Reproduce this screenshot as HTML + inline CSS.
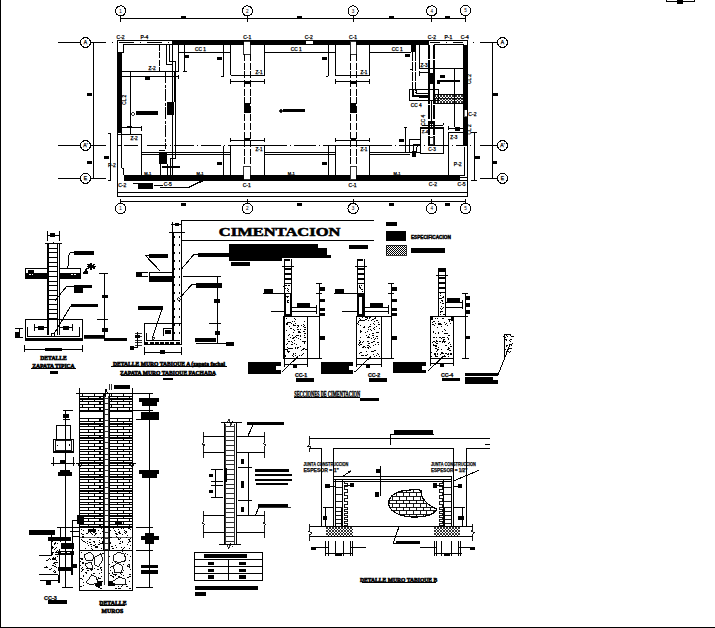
<!DOCTYPE html>
<html><head><meta charset="utf-8"><style>
html,body{margin:0;padding:0;background:#fff;}
svg{display:block;font-family:"Liberation Sans",sans-serif;}
</style></head><body>
<svg width="715" height="628" viewBox="0 0 715 628" stroke="#000" fill="none" shape-rendering="crispEdges">
<defs>
<pattern id="hx" width="3" height="3" patternUnits="userSpaceOnUse"><path d="M0,0L3,3M3,0L0,3" stroke="#000" stroke-width="0.8"/></pattern>
<pattern id="dg" width="2" height="2" patternUnits="userSpaceOnUse"><rect x="0" y="0" width="1" height="1" fill="#000" stroke="none"/><rect x="1" y="1" width="1" height="1" fill="#000" stroke="none"/></pattern>
<pattern id="sp" width="5" height="5" patternUnits="userSpaceOnUse"><rect x="1" y="1" width="1" height="1" fill="#000" stroke="none"/><rect x="3.5" y="3" width="1" height="1" fill="#000" stroke="none"/><rect x="0.5" y="4" width="0.8" height="0.8" fill="#000" stroke="none"/></pattern>
</defs>
<rect x="0" y="0" width="1.20" height="628.00" fill="#000" stroke="none"/>
<rect x="0" y="626.6" width="715.00" height="1.40" fill="#000" stroke="none"/>
<line x1="666.7" y1="1.7" x2="694" y2="1.7" stroke-width="1"/>
<line x1="666.7" y1="0" x2="666.7" y2="1.7" stroke-width="1"/>
<line x1="694" y1="0" x2="694" y2="1.7" stroke-width="1"/>
<rect x="677.2" y="0" width="5.60" height="3.50" fill="#000" stroke="none"/>
<line x1="120.6" y1="15.5" x2="120.6" y2="21.7" stroke-width="1"/>
<line x1="120.6" y1="198.7" x2="120.6" y2="204" stroke-width="1"/>
<circle cx="120.6" cy="10.9" r="5.1" fill="#fff" stroke-width="1"/>
<circle cx="120.6" cy="208.5" r="5.2" fill="#fff" stroke-width="1"/>
<text x="120.6" y="12.6" font-size="4.6" text-anchor="middle" font-weight="normal" font-family="Liberation Sans" stroke="#000" stroke-width="0" fill="#000">1</text>
<text x="120.6" y="210.1" font-size="4.6" text-anchor="middle" font-weight="normal" font-family="Liberation Sans" stroke="#000" stroke-width="0" fill="#000">1</text>
<line x1="247.4" y1="15.5" x2="247.4" y2="21.7" stroke-width="1"/>
<line x1="247.4" y1="198.7" x2="247.4" y2="204" stroke-width="1"/>
<circle cx="247.4" cy="10.9" r="5.1" fill="#fff" stroke-width="1"/>
<circle cx="247.4" cy="208.5" r="5.2" fill="#fff" stroke-width="1"/>
<text x="247.4" y="12.6" font-size="4.6" text-anchor="middle" font-weight="normal" font-family="Liberation Sans" stroke="#000" stroke-width="0" fill="#000">2</text>
<text x="247.4" y="210.1" font-size="4.6" text-anchor="middle" font-weight="normal" font-family="Liberation Sans" stroke="#000" stroke-width="0" fill="#000">2</text>
<line x1="353.1" y1="15.5" x2="353.1" y2="21.7" stroke-width="1"/>
<line x1="353.1" y1="198.7" x2="353.1" y2="204" stroke-width="1"/>
<circle cx="353.1" cy="10.9" r="5.1" fill="#fff" stroke-width="1"/>
<circle cx="353.1" cy="208.5" r="5.2" fill="#fff" stroke-width="1"/>
<text x="353.1" y="12.6" font-size="4.6" text-anchor="middle" font-weight="normal" font-family="Liberation Sans" stroke="#000" stroke-width="0" fill="#000">3</text>
<text x="353.1" y="210.1" font-size="4.6" text-anchor="middle" font-weight="normal" font-family="Liberation Sans" stroke="#000" stroke-width="0" fill="#000">3</text>
<line x1="431.7" y1="15.5" x2="431.7" y2="21.7" stroke-width="1"/>
<line x1="431.7" y1="198.7" x2="431.7" y2="204" stroke-width="1"/>
<circle cx="431.7" cy="10.9" r="5.1" fill="#fff" stroke-width="1"/>
<circle cx="431.7" cy="208.5" r="5.2" fill="#fff" stroke-width="1"/>
<text x="431.7" y="12.6" font-size="4.6" text-anchor="middle" font-weight="normal" font-family="Liberation Sans" stroke="#000" stroke-width="0" fill="#000">4</text>
<text x="431.7" y="210.1" font-size="4.6" text-anchor="middle" font-weight="normal" font-family="Liberation Sans" stroke="#000" stroke-width="0" fill="#000">4</text>
<line x1="465.5" y1="15.5" x2="465.5" y2="21.7" stroke-width="1"/>
<line x1="465.5" y1="198.7" x2="465.5" y2="204" stroke-width="1"/>
<circle cx="465.5" cy="10.6" r="5.1" fill="#fff" stroke-width="1"/>
<circle cx="465.5" cy="208.5" r="5.2" fill="#fff" stroke-width="1"/>
<text x="465.5" y="12.3" font-size="4.6" text-anchor="middle" font-weight="normal" font-family="Liberation Sans" stroke="#000" stroke-width="0" fill="#000">5</text>
<text x="465.5" y="210.1" font-size="4.6" text-anchor="middle" font-weight="normal" font-family="Liberation Sans" stroke="#000" stroke-width="0" fill="#000">5</text>
<line x1="120.6" y1="18.4" x2="465.5" y2="18.4" stroke-width="1"/>
<line x1="120.6" y1="201.3" x2="465.5" y2="201.3" stroke-width="1"/>
<rect x="180.9" y="15.900000000000002" width="5.00" height="2.40" fill="#000" stroke="none"/>
<rect x="180.9" y="203.10000000000002" width="5.00" height="2.40" fill="#000" stroke="none"/>
<rect x="296.8" y="15.900000000000002" width="5.00" height="2.40" fill="#000" stroke="none"/>
<rect x="296.8" y="203.10000000000002" width="5.00" height="2.40" fill="#000" stroke="none"/>
<rect x="388.7" y="15.900000000000002" width="5.00" height="2.40" fill="#000" stroke="none"/>
<rect x="388.7" y="203.10000000000002" width="5.00" height="2.40" fill="#000" stroke="none"/>
<rect x="444.9" y="15.900000000000002" width="5.00" height="2.40" fill="#000" stroke="none"/>
<rect x="444.9" y="203.10000000000002" width="5.00" height="2.40" fill="#000" stroke="none"/>
<line x1="58" y1="42.5" x2="80.5" y2="42.5" stroke-width="1"/>
<line x1="90.5" y1="42.5" x2="106" y2="42.5" stroke-width="1"/>
<circle cx="85.5" cy="42.5" r="5" fill="#fff" stroke-width="1"/>
<text x="85.5" y="44.3" font-size="5" text-anchor="middle" font-weight="normal" font-family="Liberation Sans" stroke="#000" stroke-width="0.25" fill="#000">A</text>
<line x1="479.8" y1="42.5" x2="497.4" y2="42.5" stroke-width="1"/>
<circle cx="502.5" cy="42.5" r="5" fill="#fff" stroke-width="1"/>
<text x="502.5" y="44.3" font-size="5" text-anchor="middle" font-weight="normal" font-family="Liberation Sans" stroke="#000" stroke-width="0.25" fill="#000">A</text>
<line x1="58" y1="145.5" x2="80.5" y2="145.5" stroke-width="1"/>
<line x1="90.5" y1="145.5" x2="106" y2="145.5" stroke-width="1"/>
<circle cx="85.5" cy="145.5" r="5" fill="#fff" stroke-width="1"/>
<text x="85.5" y="147.3" font-size="5" text-anchor="middle" font-weight="normal" font-family="Liberation Sans" stroke="#000" stroke-width="0.25" fill="#000">A'</text>
<line x1="479.8" y1="145.5" x2="497.4" y2="145.5" stroke-width="1"/>
<circle cx="502.5" cy="145.5" r="5" fill="#fff" stroke-width="1"/>
<text x="502.5" y="147.3" font-size="5" text-anchor="middle" font-weight="normal" font-family="Liberation Sans" stroke="#000" stroke-width="0.25" fill="#000">A'</text>
<line x1="58" y1="178.4" x2="80.5" y2="178.4" stroke-width="1"/>
<line x1="90.5" y1="178.4" x2="106" y2="178.4" stroke-width="1"/>
<circle cx="85.5" cy="178.4" r="5" fill="#fff" stroke-width="1"/>
<text x="85.5" y="180.20000000000002" font-size="5" text-anchor="middle" font-weight="normal" font-family="Liberation Sans" stroke="#000" stroke-width="0.25" fill="#000">E</text>
<line x1="479.8" y1="178.4" x2="497.4" y2="178.4" stroke-width="1"/>
<circle cx="502.5" cy="178.4" r="5" fill="#fff" stroke-width="1"/>
<text x="502.5" y="180.20000000000002" font-size="5" text-anchor="middle" font-weight="normal" font-family="Liberation Sans" stroke="#000" stroke-width="0.25" fill="#000">E</text>
<line x1="93.5" y1="42.5" x2="93.5" y2="178.4" stroke-width="1"/>
<line x1="492.5" y1="42.5" x2="492.5" y2="178.4" stroke-width="1"/>
<rect x="87" y="93.1" width="5.00" height="2.40" fill="#000" stroke="none"/>
<rect x="87" y="161.2" width="5.00" height="2.40" fill="#000" stroke="none"/>
<rect x="493" y="93.2" width="4.50" height="2.40" fill="#000" stroke="none"/>
<rect x="493" y="161" width="3.60" height="2.60" fill="#000" stroke="none"/>
<line x1="110.5" y1="133" x2="110.5" y2="180.2" stroke-width="1"/>
<line x1="108" y1="133" x2="111" y2="133" stroke-width="1"/>
<line x1="108" y1="180.2" x2="111" y2="180.2" stroke-width="1"/>
<rect x="103.5" y="156.2" width="5.00" height="2.40" fill="#000" stroke="none"/>
<text x="111.8" y="166.5" font-size="5" text-anchor="middle" font-weight="normal" font-family="Liberation Sans" stroke="#000" stroke-width="0.25" fill="#000">P-2</text>
<line x1="474.2" y1="132" x2="474.2" y2="180.2" stroke-width="1"/>
<line x1="471" y1="132" x2="477.4" y2="132" stroke-width="1"/>
<line x1="471" y1="180.2" x2="477.4" y2="180.2" stroke-width="1"/>
<rect x="475" y="156.3" width="4.80" height="2.40" fill="#000" stroke="none"/>
<rect x="112.3" y="42" width="1.00" height="1.00" fill="#000" stroke="none"/>
<rect x="473" y="42" width="1.00" height="1.00" fill="#000" stroke="none"/>
<line x1="117.2" y1="40.7" x2="117.2" y2="196.3" stroke-width="1"/>
<line x1="117.2" y1="40.7" x2="172.3" y2="40.7" stroke-width="1"/>
<line x1="123.2" y1="44.5" x2="172.3" y2="44.5" stroke-width="1"/>
<line x1="119" y1="42.5" x2="172" y2="42.5" stroke-width="1" stroke-dasharray="15 6 1 6"/>
<line x1="123.2" y1="44.5" x2="123.2" y2="52.5" stroke-width="1"/>
<line x1="117.2" y1="52.5" x2="123.2" y2="52.5" stroke-width="1"/>
<rect x="172.3" y="40.1" width="256.20" height="4.50" fill="#000" stroke="none"/>
<rect x="117.8" y="52.5" width="3.90" height="80.50" fill="#000" stroke="none"/>
<rect x="123.6" y="175.2" width="336.40" height="5.40" fill="#000" stroke="none"/>
<rect x="463.7" y="45.4" width="4.20" height="100.80" fill="#000" stroke="none"/>
<line x1="428.5" y1="40.6" x2="467.9" y2="40.6" stroke-width="1"/>
<line x1="434.3" y1="44.2" x2="463.7" y2="44.2" stroke-width="1"/>
<line x1="467.9" y1="40.6" x2="467.9" y2="196.4" stroke-width="1"/>
<line x1="429.6" y1="42.5" x2="439.5" y2="42.5" stroke-width="1"/>
<rect x="446" y="42" width="1.00" height="1.00" fill="#000" stroke="none"/>
<line x1="453.3" y1="42.5" x2="463.2" y2="42.5" stroke-width="1"/>
<line x1="463.3" y1="44.2" x2="463.3" y2="146" stroke-width="1"/>
<line x1="117.2" y1="192.4" x2="467.9" y2="192.4" stroke-width="1"/>
<line x1="117.2" y1="196.3" x2="467.9" y2="196.3" stroke-width="1"/>
<line x1="121.6" y1="133" x2="121.6" y2="168" stroke-width="1"/>
<line x1="121.6" y1="168" x2="123.6" y2="168" stroke-width="1"/>
<line x1="123.6" y1="168" x2="123.6" y2="175.2" stroke-width="1"/>
<line x1="117.9" y1="133" x2="117.9" y2="175.2" stroke-width="1"/>
<line x1="464" y1="146.5" x2="464" y2="175.6" stroke-width="1"/>
<line x1="459.7" y1="175.6" x2="464" y2="175.6" stroke-width="1"/>
<line x1="459.7" y1="177.6" x2="467.5" y2="177.6" stroke-width="1"/>
<line x1="459.7" y1="180.3" x2="467.9" y2="180.3" stroke-width="1"/>
<rect x="464.3" y="109.8" width="3.00" height="7.00" fill="#fff" stroke="none"/>
<rect x="464.3" y="109.8" width="3.00" height="7.00" fill="none" stroke-width="0.6"/>
<line x1="117.2" y1="145.5" x2="121" y2="145.5" stroke-width="1"/>
<line x1="124" y1="145.5" x2="140" y2="145.5" stroke-width="1" stroke-dasharray="14 3 1 3"/>
<line x1="147" y1="145.5" x2="230.5" y2="145.5" stroke-width="1" stroke-dasharray="20 3 1 3"/>
<line x1="264.6" y1="145.5" x2="335.4" y2="145.5" stroke-width="1" stroke-dasharray="22 3 1 3"/>
<line x1="369.5" y1="145.5" x2="448" y2="145.5" stroke-width="1" stroke-dasharray="22 3 1 3"/>
<line x1="452" y1="145.5" x2="463" y2="145.5" stroke-width="1" stroke-dasharray="1 3 10 3"/>
<rect x="469.5" y="145" width="1.00" height="1.00" fill="#000" stroke="none"/>
<rect x="243.7" y="41" width="6.60" height="13.20" fill="#fff" stroke="none"/>
<rect x="243.7" y="41" width="6.60" height="13.20" fill="none" stroke-width="0.8"/>
<rect x="243.7" y="166.2" width="6.60" height="13.60" fill="#fff" stroke="none"/>
<rect x="243.7" y="166.2" width="6.60" height="13.60" fill="none" stroke-width="0.8"/>
<line x1="244.2" y1="54.2" x2="244.2" y2="166.2" stroke-width="1" stroke-dasharray="7 1.6"/>
<line x1="250.0" y1="54.2" x2="250.0" y2="166.2" stroke-width="1" stroke-dasharray="7 1.6"/>
<rect x="243.7" y="103.3" width="6.60" height="10.00" fill="#000" stroke="none"/>
<rect x="244.2" y="81.5" width="5.60" height="2.50" fill="#000" stroke="none"/>
<rect x="244.2" y="137.6" width="5.60" height="2.20" fill="#000" stroke="none"/>
<line x1="230.5" y1="44.5" x2="230.5" y2="75.2" stroke-width="1"/>
<line x1="264.6" y1="44.5" x2="264.6" y2="75.2" stroke-width="1"/>
<line x1="230.5" y1="75.2" x2="264.6" y2="75.2" stroke-width="1"/>
<line x1="230.5" y1="145.5" x2="230.5" y2="175.2" stroke-width="1"/>
<line x1="264.6" y1="145.5" x2="264.6" y2="175.2" stroke-width="1"/>
<line x1="230.5" y1="145.5" x2="264.6" y2="145.5" stroke-width="1"/>
<line x1="230.5" y1="81.2" x2="264.6" y2="81.2" stroke-width="1"/>
<line x1="230.5" y1="79" x2="230.5" y2="83.6" stroke-width="1"/>
<line x1="264.6" y1="79" x2="264.6" y2="83.6" stroke-width="1"/>
<line x1="230.5" y1="140.1" x2="264.6" y2="140.1" stroke-width="1"/>
<line x1="230.5" y1="137.8" x2="230.5" y2="142.4" stroke-width="1"/>
<line x1="264.6" y1="137.8" x2="264.6" y2="142.4" stroke-width="1"/>
<text x="247.2" y="38.7" font-size="5" text-anchor="middle" font-weight="normal" font-family="Liberation Sans" stroke="#000" stroke-width="0.25" fill="#000">C-1</text>
<text x="246.7" y="186.7" font-size="5" text-anchor="middle" font-weight="normal" font-family="Liberation Sans" stroke="#000" stroke-width="0.25" fill="#000">C-1</text>
<text x="259.0" y="74.2" font-size="4.6" text-anchor="middle" font-weight="normal" font-family="Liberation Sans" stroke="#000" stroke-width="0.25" fill="#000">Z-1</text>
<text x="259.0" y="151" font-size="4.6" text-anchor="middle" font-weight="normal" font-family="Liberation Sans" stroke="#000" stroke-width="0.25" fill="#000">Z-1</text>
<rect x="350.0" y="41" width="6.30" height="13.20" fill="#fff" stroke="none"/>
<rect x="350.0" y="41" width="6.30" height="13.20" fill="none" stroke-width="0.8"/>
<rect x="350.0" y="166.2" width="6.30" height="13.60" fill="#fff" stroke="none"/>
<rect x="350.0" y="166.2" width="6.30" height="13.60" fill="none" stroke-width="0.8"/>
<line x1="350.5" y1="54.2" x2="350.5" y2="166.2" stroke-width="1" stroke-dasharray="7 1.6"/>
<line x1="356.0" y1="54.2" x2="356.0" y2="166.2" stroke-width="1" stroke-dasharray="7 1.6"/>
<rect x="350.0" y="103.3" width="6.30" height="10.00" fill="#000" stroke="none"/>
<rect x="350.5" y="81.5" width="5.30" height="2.50" fill="#000" stroke="none"/>
<rect x="350.5" y="137.6" width="5.30" height="2.20" fill="#000" stroke="none"/>
<line x1="335.4" y1="44.5" x2="335.4" y2="75.2" stroke-width="1"/>
<line x1="369.5" y1="44.5" x2="369.5" y2="75.2" stroke-width="1"/>
<line x1="335.4" y1="75.2" x2="369.5" y2="75.2" stroke-width="1"/>
<line x1="335.4" y1="145.5" x2="335.4" y2="175.2" stroke-width="1"/>
<line x1="369.5" y1="145.5" x2="369.5" y2="175.2" stroke-width="1"/>
<line x1="335.4" y1="145.5" x2="369.5" y2="145.5" stroke-width="1"/>
<line x1="335.4" y1="81.2" x2="369.5" y2="81.2" stroke-width="1"/>
<line x1="335.4" y1="79" x2="335.4" y2="83.6" stroke-width="1"/>
<line x1="369.5" y1="79" x2="369.5" y2="83.6" stroke-width="1"/>
<line x1="335.4" y1="140.1" x2="369.5" y2="140.1" stroke-width="1"/>
<line x1="335.4" y1="137.8" x2="335.4" y2="142.4" stroke-width="1"/>
<line x1="369.5" y1="137.8" x2="369.5" y2="142.4" stroke-width="1"/>
<text x="353.1" y="38.7" font-size="5" text-anchor="middle" font-weight="normal" font-family="Liberation Sans" stroke="#000" stroke-width="0.25" fill="#000">C-1</text>
<text x="352.6" y="186.7" font-size="5" text-anchor="middle" font-weight="normal" font-family="Liberation Sans" stroke="#000" stroke-width="0.25" fill="#000">C-1</text>
<text x="363.9" y="74.2" font-size="4.6" text-anchor="middle" font-weight="normal" font-family="Liberation Sans" stroke="#000" stroke-width="0.25" fill="#000">Z-1</text>
<text x="363.9" y="151" font-size="4.6" text-anchor="middle" font-weight="normal" font-family="Liberation Sans" stroke="#000" stroke-width="0.25" fill="#000">Z-1</text>
<line x1="178.6" y1="44.5" x2="178.6" y2="71.3" stroke-width="1"/>
<line x1="178.6" y1="52.4" x2="230.5" y2="52.4" stroke-width="1"/>
<line x1="264.6" y1="52.4" x2="335.4" y2="52.4" stroke-width="1"/>
<line x1="369.5" y1="52.4" x2="411" y2="52.4" stroke-width="1"/>
<text x="200.4" y="51.3" font-size="4.8" text-anchor="middle" font-weight="normal" font-family="Liberation Sans" stroke="#000" stroke-width="0.25" fill="#000">CC 1</text>
<text x="296.3" y="51.3" font-size="4.8" text-anchor="middle" font-weight="normal" font-family="Liberation Sans" stroke="#000" stroke-width="0.25" fill="#000">CC 1</text>
<text x="397.2" y="51.3" font-size="4.8" text-anchor="middle" font-weight="normal" font-family="Liberation Sans" stroke="#000" stroke-width="0.25" fill="#000">CC 1</text>
<line x1="141.5" y1="152.6" x2="230.5" y2="152.6" stroke-width="1"/>
<line x1="141.5" y1="154.3" x2="230.5" y2="154.3" stroke-width="1"/>
<line x1="264.6" y1="152.6" x2="335.4" y2="152.6" stroke-width="1"/>
<line x1="264.6" y1="154.3" x2="335.4" y2="154.3" stroke-width="1"/>
<line x1="369.5" y1="152.6" x2="409.8" y2="152.6" stroke-width="1"/>
<line x1="369.5" y1="154.3" x2="409.8" y2="154.3" stroke-width="1"/>
<line x1="184.6" y1="44.5" x2="184.6" y2="71.3" stroke-width="1"/>
<line x1="183" y1="71.3" x2="186.8" y2="71.3" stroke-width="1"/>
<line x1="223.5" y1="44.5" x2="223.5" y2="76.2" stroke-width="1"/>
<line x1="221.0" y1="76.2" x2="223.5" y2="76.2" stroke-width="1"/>
<line x1="223.5" y1="145.5" x2="223.5" y2="175.2" stroke-width="1"/>
<line x1="328.4" y1="44.5" x2="328.4" y2="76.2" stroke-width="1"/>
<line x1="325.9" y1="76.2" x2="328.4" y2="76.2" stroke-width="1"/>
<line x1="328.4" y1="145.5" x2="328.4" y2="175.2" stroke-width="1"/>
<rect x="184.60000000000002" y="55.1" width="4.40" height="2.60" fill="#000" stroke="none"/>
<rect x="217.0" y="57.199999999999996" width="5.00" height="2.40" fill="#000" stroke="none"/>
<rect x="321.9" y="57.199999999999996" width="5.00" height="2.40" fill="#000" stroke="none"/>
<rect x="405.09999999999997" y="54.25" width="4.60" height="2.50" fill="#000" stroke="none"/>
<rect x="217.0" y="162.20000000000002" width="5.00" height="2.40" fill="#000" stroke="none"/>
<rect x="321.9" y="162.20000000000002" width="5.00" height="2.40" fill="#000" stroke="none"/>
<rect x="399.2" y="139.10000000000002" width="5.00" height="2.40" fill="#000" stroke="none"/>
<rect x="306.3" y="41.2" width="6.40" height="2.40" fill="#fff" stroke="none"/>
<text x="308.7" y="39" font-size="5" text-anchor="middle" font-weight="normal" font-family="Liberation Sans" stroke="#000" stroke-width="0.25" fill="#000">C-2</text>
<circle cx="133.2" cy="114" r="1.4" fill="#fff" stroke-width="0.8"/>
<rect x="136.2" y="111.3" width="21.30" height="3.50" fill="#000" stroke="none"/>
<circle cx="281" cy="111" r="1.4" fill="#000" stroke-width="0.8"/>
<rect x="283.3" y="109.3" width="22.00" height="2.70" fill="#000" stroke="none"/>
<text x="147.7" y="174.6" font-size="4" text-anchor="middle" font-weight="normal" font-family="Liberation Sans" stroke="#000" stroke-width="0.25" fill="#000">M-1</text>
<text x="200" y="174.6" font-size="4" text-anchor="middle" font-weight="normal" font-family="Liberation Sans" stroke="#000" stroke-width="0.25" fill="#000">M-1</text>
<text x="291.3" y="174.6" font-size="4" text-anchor="middle" font-weight="normal" font-family="Liberation Sans" stroke="#000" stroke-width="0.25" fill="#000">M-1</text>
<text x="397" y="174.6" font-size="4" text-anchor="middle" font-weight="normal" font-family="Liberation Sans" stroke="#000" stroke-width="0.25" fill="#000">M-1</text>
<text x="120.6" y="38.7" font-size="5" text-anchor="middle" font-weight="normal" font-family="Liberation Sans" stroke="#000" stroke-width="0.25" fill="#000">C-2</text>
<text x="144.3" y="38.7" font-size="5" text-anchor="middle" font-weight="normal" font-family="Liberation Sans" stroke="#000" stroke-width="0.25" fill="#000">P-4</text>
<text x="431.9" y="38.7" font-size="5" text-anchor="middle" font-weight="normal" font-family="Liberation Sans" stroke="#000" stroke-width="0.25" fill="#000">C-2</text>
<text x="448.3" y="38.7" font-size="5" text-anchor="middle" font-weight="normal" font-family="Liberation Sans" stroke="#000" stroke-width="0.25" fill="#000">P-1</text>
<text x="464.7" y="38.7" font-size="5" text-anchor="middle" font-weight="normal" font-family="Liberation Sans" stroke="#000" stroke-width="0.25" fill="#000">C-4</text>
<text x="122.2" y="186.6" font-size="5" text-anchor="middle" font-weight="normal" font-family="Liberation Sans" stroke="#000" stroke-width="0.25" fill="#000">C-2</text>
<text x="167.8" y="185.7" font-size="5" text-anchor="middle" font-weight="normal" font-family="Liberation Sans" stroke="#000" stroke-width="0.25" fill="#000">C-5</text>
<text x="432.9" y="186" font-size="5" text-anchor="middle" font-weight="normal" font-family="Liberation Sans" stroke="#000" stroke-width="0.25" fill="#000">C-2</text>
<text x="461.6" y="186" font-size="5" text-anchor="middle" font-weight="normal" font-family="Liberation Sans" stroke="#000" stroke-width="0.25" fill="#000">C-5</text>
<text x="472.4" y="115.8" font-size="5" text-anchor="middle" font-weight="normal" font-family="Liberation Sans" stroke="#000" stroke-width="0.25" fill="#000">C-2</text>
<text x="125.6" y="99.7" font-size="4.8" text-anchor="middle" font-weight="normal" font-family="Liberation Sans" transform="rotate(-90 125.6 99.7)" stroke="#000" stroke-width="0.25" fill="#000">CL 2</text>
<text x="471.4" y="79" font-size="4.8" text-anchor="middle" font-weight="normal" font-family="Liberation Sans" transform="rotate(-90 471.4 79)" stroke="#000" stroke-width="0.25" fill="#000">CL 2</text>
<text x="471.4" y="129.4" font-size="4.8" text-anchor="middle" font-weight="normal" font-family="Liberation Sans" transform="rotate(-90 471.4 129.4)" stroke="#000" stroke-width="0.25" fill="#000">CL 2</text>
<line x1="121.6" y1="71.3" x2="178.6" y2="71.3" stroke-width="1"/>
<line x1="121.6" y1="76.5" x2="178.6" y2="76.5" stroke-width="1"/>
<line x1="178.6" y1="75" x2="178.6" y2="78.9" stroke-width="1"/>
<line x1="130.3" y1="71.3" x2="130.3" y2="134" stroke-width="1"/>
<line x1="159.6" y1="44.5" x2="159.6" y2="71.3" stroke-width="1" stroke-dasharray="6 1.5"/>
<line x1="165.4" y1="71.3" x2="165.4" y2="149" stroke-width="1" stroke-dasharray="12 1.5 3 1.5"/>
<line x1="159.2" y1="150" x2="165.4" y2="150" stroke-width="1"/>
<rect x="145" y="76.8" width="5.00" height="2.80" fill="#000" stroke="none"/>
<text x="152.2" y="69.8" font-size="4.8" text-anchor="middle" font-weight="normal" font-family="Liberation Sans" stroke="#000" stroke-width="0.25" fill="#000">Z-2</text>
<path d="M166.8,44.5V64.5H172.5" stroke-width="1" fill="none"/>
<path d="M169.5,44.5V61.8H175.6V157.8" stroke-width="1" fill="none"/>
<line x1="172.5" y1="44.5" x2="172.5" y2="175.1" stroke-width="1"/>
<line x1="174.4" y1="71.3" x2="174.4" y2="102" stroke-width="1"/>
<rect x="167" y="102.2" width="7.00" height="12.60" fill="#000" stroke="none"/>
<line x1="121.6" y1="127.4" x2="141.5" y2="127.4" stroke-width="1"/>
<line x1="141.5" y1="125.6" x2="141.5" y2="131" stroke-width="1"/>
<rect x="127" y="125.8" width="4.70" height="1.80" fill="#000" stroke="none"/>
<line x1="117.6" y1="134" x2="141.5" y2="134" stroke-width="1"/>
<line x1="141.5" y1="134" x2="141.5" y2="175.1" stroke-width="1"/>
<text x="134.1" y="139.9" font-size="4.8" text-anchor="middle" font-weight="normal" font-family="Liberation Sans" stroke="#000" stroke-width="0.25" fill="#000">Z-2</text>
<rect x="159.2" y="152.5" width="7.80" height="11.90" fill="#000" stroke="none"/>
<path d="M175.6,157.8V158.4H170V175.1" stroke-width="1" fill="none"/>
<line x1="167" y1="164.4" x2="167" y2="175.1" stroke-width="1"/>
<line x1="160.1" y1="164.4" x2="160.1" y2="175.1" stroke-width="1"/>
<line x1="162.2" y1="166.8" x2="180" y2="166.8" stroke-width="1.6"/>
<line x1="132.9" y1="183.6" x2="153.2" y2="183.6" stroke-width="1"/>
<rect x="138.3" y="184.1" width="14.90" height="4.40" fill="#000" stroke="none"/>
<line x1="154.4" y1="185.3" x2="162.8" y2="185.3" stroke-width="1"/>
<path d="M160.1,187.7H187.8L203,180.6" stroke-width="1.4" fill="none"/>
<rect x="411" y="44.6" width="4.80" height="7.80" fill="#000" stroke="none"/>
<line x1="412.3" y1="52.4" x2="412.3" y2="93.3" stroke-width="1" stroke-dasharray="9 1"/>
<line x1="415.3" y1="52.4" x2="415.3" y2="93.3" stroke-width="1" stroke-dasharray="9 1"/>
<line x1="419.2" y1="44.6" x2="419.2" y2="68.1" stroke-width="1"/>
<line x1="409.5" y1="69" x2="412.3" y2="69" stroke-width="1"/>
<line x1="419.2" y1="68.2" x2="463.5" y2="68.2" stroke-width="1"/>
<line x1="419.2" y1="72.6" x2="428.6" y2="72.6" stroke-width="1"/>
<line x1="419.4" y1="71.4" x2="419.4" y2="76" stroke-width="1"/>
<line x1="429.1" y1="44.6" x2="429.1" y2="145" stroke-width="1.6" stroke-dasharray="14 1.2"/>
<line x1="434.2" y1="44.6" x2="434.2" y2="145" stroke-width="1.6" stroke-dasharray="14 1.2"/>
<rect x="428.4" y="73" width="6.50" height="11.40" fill="#000" stroke="none"/>
<line x1="454.4" y1="68.2" x2="454.4" y2="127.3" stroke-width="1"/>
<rect x="440" y="75" width="4.90" height="2.50" fill="#000" stroke="none"/>
<rect x="437" y="79.5" width="22.70" height="2.40" fill="#000" stroke="none"/>
<rect x="437" y="79.5" width="3.00" height="4.00" fill="#000" stroke="none"/>
<text x="424" y="67.4" font-size="4.6" text-anchor="middle" font-weight="normal" font-family="Liberation Sans" stroke="#000" stroke-width="0.25" fill="#000">Z-3</text>
<rect x="409.5" y="89.5" width="29.00" height="10.50" fill="none" stroke-width="1"/>
<path d="M413,89.5V95.6H428.6" stroke-width="1.8" fill="none"/>
<path d="M416,89.5V93H428.6" stroke-width="1" fill="none"/>
<line x1="418.8" y1="97.6" x2="428.6" y2="97.6" stroke-width="1"/>
<rect x="435" y="94.4" width="28.6" height="9.1" fill="url(#hx)" stroke="none"/>
<line x1="435" y1="94.4" x2="463.5" y2="94.4" stroke-width="1"/>
<line x1="435" y1="103.5" x2="463.5" y2="103.5" stroke-width="1"/>
<line x1="435" y1="98.7" x2="463.5" y2="98.7" stroke-width="0.8"/>
<text x="416.3" y="106.8" font-size="4.8" text-anchor="middle" font-weight="normal" font-family="Liberation Sans" stroke="#000" stroke-width="0.25" fill="#000">CC 4</text>
<line x1="431" y1="100" x2="431" y2="128" stroke-width="1"/>
<rect x="428.5" y="121" width="6.00" height="2.80" fill="#000" stroke="none"/>
<line x1="422.4" y1="125" x2="443.4" y2="125" stroke-width="1"/>
<line x1="443.4" y1="122.5" x2="443.4" y2="125" stroke-width="1"/>
<rect x="420.7" y="128" width="22.70" height="25.10" fill="none" stroke-width="1.2"/>
<rect x="429.6" y="137.1" width="4.20" height="7.70" fill="#fff" stroke="none"/>
<rect x="429.6" y="137.1" width="4.20" height="7.70" fill="none" stroke-width="0.8"/>
<text x="425" y="133.4" font-size="4.4" text-anchor="middle" font-weight="normal" font-family="Liberation Sans" stroke="#000" stroke-width="0.25" fill="#000">Z-4</text>
<text x="432" y="151.4" font-size="4.6" text-anchor="middle" font-weight="normal" font-family="Liberation Sans" stroke="#000" stroke-width="0.25" fill="#000">C-3</text>
<text x="424.8" y="120.3" font-size="4.8" text-anchor="middle" font-weight="normal" font-family="Liberation Sans" transform="rotate(-90 424.8 120.3)" stroke="#000" stroke-width="0.25" fill="#000">CC 4</text>
<path d="M409.8,152.5V139.5H420.7" stroke-width="1" fill="none"/>
<path d="M413.3,152.5V144.1H420.7" stroke-width="1" fill="none"/>
<path d="M416.1,152.5V147.5L418,146.2" stroke-width="1" fill="none"/>
<rect x="411.9" y="151.1" width="3.80" height="5.60" fill="#000" stroke="none"/>
<line x1="405.6" y1="127.3" x2="405.6" y2="152.5" stroke-width="1"/>
<line x1="404.4" y1="127.8" x2="406.8" y2="127.8" stroke-width="1"/>
<line x1="400" y1="152.5" x2="420.7" y2="152.5" stroke-width="1"/>
<line x1="448.7" y1="132.2" x2="448.7" y2="175" stroke-width="1"/>
<line x1="448.7" y1="132.2" x2="463.5" y2="132.2" stroke-width="1"/>
<text x="453.8" y="139" font-size="4.6" text-anchor="middle" font-weight="normal" font-family="Liberation Sans" stroke="#000" stroke-width="0.25" fill="#000">Z-3</text>
<text x="457.7" y="165.8" font-size="5" text-anchor="middle" font-weight="normal" font-family="Liberation Sans" stroke="#000" stroke-width="0.25" fill="#000">P-2</text>
<line x1="448.7" y1="128" x2="463.5" y2="128" stroke-width="1"/>
<line x1="448.7" y1="125.6" x2="448.7" y2="130.4" stroke-width="1"/>
<rect x="454.6" y="127.3" width="4.90" height="3.50" fill="#000" stroke="none"/>
<line x1="181.3" y1="220.5" x2="373.8" y2="220.5" stroke-width="1"/>
<line x1="181.3" y1="240.6" x2="373.8" y2="240.6" stroke-width="1"/>
<line x1="181.3" y1="220.5" x2="181.3" y2="232" stroke-width="1"/>
<text x="218.8" y="235.6" font-size="11.6" font-weight="bold" font-family="Liberation Serif" textLength="121.6" lengthAdjust="spacingAndGlyphs" stroke="#000" stroke-width="0.5" fill="#000">CIMENTACION</text>
<rect x="228.8" y="244" width="89.40" height="13.90" fill="#000" stroke="none"/>
<rect x="318.2" y="247.7" width="9.00" height="10.20" fill="#000" stroke="none"/>
<rect x="327.2" y="255" width="3.80" height="2.90" fill="#000" stroke="none"/>
<rect x="198" y="253.3" width="31.00" height="3.90" fill="#000" stroke="none"/>
<rect x="228.8" y="257.9" width="53.10" height="3.10" fill="#000" stroke="none"/>
<rect x="230.6" y="262" width="19.60" height="3.50" fill="#000" stroke="none"/>
<rect x="349.2" y="245" width="18.80" height="3.60" fill="#000" stroke="none"/>
<rect x="386" y="222.3" width="10.80" height="4.00" fill="#000" stroke="none"/>
<rect x="386" y="231" width="20.00" height="9.50" fill="#000" stroke="none"/>
<text x="411" y="238.6" font-size="4.6" text-anchor="start" font-weight="bold" font-family="Liberation Sans" textLength="39.8" lengthAdjust="spacingAndGlyphs" stroke="#000" stroke-width="0.4" fill="#000">ESPECIFICACION</text>
<rect x="386" y="245" width="20" height="10.4" fill="url(#dg)" stroke="#000" stroke-width="0.8"/>
<rect x="411" y="248" width="34.00" height="4.60" fill="#000" stroke="none"/>
<line x1="172.9" y1="232.3" x2="172.9" y2="339.5" stroke-width="1.8"/>
<line x1="181.5" y1="232.3" x2="181.5" y2="339.5" stroke-width="1.8"/>
<line x1="174.6" y1="236" x2="174.6" y2="338" stroke-width="1.2" stroke-dasharray="1.5 6.5"/>
<line x1="179.5" y1="236" x2="179.5" y2="338" stroke-width="1.2" stroke-dasharray="1.5 6.5"/>
<line x1="169.2" y1="232.3" x2="184.6" y2="232.3" stroke-width="1"/>
<line x1="171.2" y1="224.7" x2="181.3" y2="224.7" stroke-width="1"/>
<rect x="174.5" y="223.4" width="4.50" height="3.00" fill="#000" stroke="none"/>
<line x1="172.9" y1="221.7" x2="172.9" y2="232.3" stroke-width="1"/>
<line x1="181.3" y1="220.5" x2="181.3" y2="232.3" stroke-width="1"/>
<path d="M198,254.4H193.8L182.1,268.4" stroke-width="1" fill="none"/>
<rect x="148.9" y="253.9" width="18.90" height="3.70" fill="#000" stroke="none"/>
<path d="M148.9,255.3H145.2L160.3,271.2" stroke-width="1" fill="none"/>
<rect x="149.4" y="272.4" width="23.50" height="3.90" fill="#fff" stroke="none"/>
<rect x="149.4" y="272.4" width="23.50" height="3.90" fill="none" stroke-width="1"/>
<rect x="149.4" y="276.3" width="23.50" height="5.50" fill="#000" stroke="none"/>
<rect x="136.3" y="272" width="5.50" height="5.40" fill="#000" stroke="none"/>
<line x1="141.8" y1="272.9" x2="147.7" y2="272.9" stroke-width="1"/>
<line x1="141.8" y1="276.7" x2="147.7" y2="276.7" stroke-width="1"/>
<line x1="183" y1="276.6" x2="220.7" y2="276.6" stroke-width="1"/>
<line x1="217.8" y1="276.6" x2="217.8" y2="343.2" stroke-width="1"/>
<rect x="195.9" y="283" width="26.00" height="4.50" fill="#000" stroke="none"/>
<path d="M195.9,284.2H192.2L180.4,297.2" stroke-width="1" fill="none"/>
<circle cx="178.7" cy="299.3" r="1.4" fill="#fff" stroke-width="0.8"/>
<rect x="214" y="299" width="6.20" height="3.80" fill="#000" stroke="none"/>
<rect x="214.5" y="331" width="5.50" height="3.60" fill="#000" stroke="none"/>
<line x1="209" y1="323.5" x2="221" y2="323.5" stroke-width="1"/>
<rect x="137.5" y="306.4" width="25.30" height="3.20" fill="#000" stroke="none"/>
<line x1="161.8" y1="309.4" x2="152.2" y2="338.6" stroke-width="1"/>
<rect x="144.3" y="323.3" width="37.50" height="21.00" fill="none" stroke-width="1.2"/>
<line x1="144.3" y1="342.8" x2="181.8" y2="342.8" stroke-width="1.6" stroke-dasharray="4 1.2"/>
<path d="M146.5,333.2V340.2H180" stroke-width="1" fill="none"/>
<circle cx="153.3" cy="338.4" r="1.3" fill="#fff" stroke-width="0.8"/>
<line x1="163.6" y1="328.6" x2="173" y2="328.6" stroke-width="1"/>
<line x1="163.6" y1="327.6" x2="163.6" y2="336" stroke-width="1"/>
<rect x="164.5" y="330" width="6.50" height="3.50" fill="#000" stroke="none"/>
<line x1="144.3" y1="352" x2="181.8" y2="352" stroke-width="1"/>
<line x1="144.3" y1="346.8" x2="144.3" y2="355" stroke-width="1"/>
<line x1="181.8" y1="346.8" x2="181.8" y2="355" stroke-width="1"/>
<rect x="160" y="350" width="5.00" height="3.50" fill="#000" stroke="none"/>
<line x1="137.3" y1="332.3" x2="137.3" y2="347.7" stroke-width="1"/>
<line x1="134.5" y1="333.2" x2="141.8" y2="333.2" stroke-width="0.8"/>
<line x1="134.5" y1="336.6" x2="141.8" y2="336.6" stroke-width="0.8"/>
<line x1="134.5" y1="340.2" x2="141.8" y2="340.2" stroke-width="0.8"/>
<line x1="134.5" y1="342.6" x2="141.8" y2="342.6" stroke-width="0.8"/>
<line x1="134.5" y1="345" x2="141.8" y2="345" stroke-width="0.8"/>
<rect x="134.5" y="334.6" width="5.50" height="3.70" fill="#000" stroke="none"/>
<line x1="131.5" y1="347.7" x2="137.3" y2="347.7" stroke-width="1"/>
<rect x="130" y="346.3" width="3.60" height="3.20" fill="#000" stroke="none"/>
<rect x="105.7" y="338.2" width="21.60" height="3.20" fill="#000" stroke="none"/>
<rect x="194.5" y="338" width="21.00" height="4.00" fill="#000" stroke="none"/>
<line x1="196.4" y1="343.5" x2="225.5" y2="343.5" stroke-width="1"/>
<rect x="225.5" y="342" width="8.50" height="3.50" fill="#000" stroke="none"/>
<text x="169" y="366" font-size="5.6" text-anchor="middle" font-weight="bold" font-family="Liberation Serif" stroke="#000" stroke-width="0.55" fill="#000">DETALLE MURO TABIQUE A (zapata fachal</text>
<rect x="111" y="366.2" width="116.30" height="0.80" fill="#000" stroke="none"/>
<text x="168" y="374.8" font-size="5.6" text-anchor="middle" font-weight="bold" font-family="Liberation Serif" stroke="#000" stroke-width="0.55" fill="#000">ZAPATA MURO TABIQUE FACHADA</text>
<rect x="121" y="375" width="94.00" height="0.80" fill="#000" stroke="none"/>
<rect x="162.7" y="377.8" width="10.00" height="2.60" fill="#000" stroke="none"/>
<line x1="48.3" y1="243.2" x2="48.3" y2="334.6" stroke-width="2"/>
<line x1="57.5" y1="243.2" x2="57.5" y2="334.6" stroke-width="1"/>
<line x1="59.5" y1="243.2" x2="59.5" y2="334.6" stroke-width="1"/>
<line x1="49.3" y1="248.1" x2="57.5" y2="248.1" stroke-width="1"/>
<line x1="49.3" y1="252.79999999999998" x2="57.5" y2="252.79999999999998" stroke-width="1"/>
<line x1="49.3" y1="257.5" x2="57.5" y2="257.5" stroke-width="1"/>
<line x1="49.3" y1="262.2" x2="57.5" y2="262.2" stroke-width="1"/>
<line x1="49.3" y1="266.9" x2="57.5" y2="266.9" stroke-width="1"/>
<line x1="49.3" y1="271.59999999999997" x2="57.5" y2="271.59999999999997" stroke-width="1"/>
<line x1="49.3" y1="276.29999999999995" x2="57.5" y2="276.29999999999995" stroke-width="1"/>
<line x1="49.3" y1="280.99999999999994" x2="57.5" y2="280.99999999999994" stroke-width="1"/>
<line x1="49.3" y1="285.69999999999993" x2="57.5" y2="285.69999999999993" stroke-width="1"/>
<line x1="49.3" y1="290.3999999999999" x2="57.5" y2="290.3999999999999" stroke-width="1"/>
<line x1="49.3" y1="295.0999999999999" x2="57.5" y2="295.0999999999999" stroke-width="1"/>
<line x1="49.3" y1="299.7999999999999" x2="57.5" y2="299.7999999999999" stroke-width="1"/>
<line x1="49.3" y1="304.4999999999999" x2="57.5" y2="304.4999999999999" stroke-width="1"/>
<line x1="49.3" y1="309.1999999999999" x2="57.5" y2="309.1999999999999" stroke-width="1"/>
<line x1="49.3" y1="313.89999999999986" x2="57.5" y2="313.89999999999986" stroke-width="1"/>
<line x1="49.3" y1="318.59999999999985" x2="57.5" y2="318.59999999999985" stroke-width="1"/>
<line x1="47.4" y1="235" x2="59.8" y2="235" stroke-width="1"/>
<line x1="47.4" y1="231.3" x2="47.4" y2="240.7" stroke-width="1"/>
<line x1="59.8" y1="231.3" x2="59.8" y2="240.7" stroke-width="1"/>
<rect x="50" y="233.4" width="4.90" height="3.50" fill="#000" stroke="none"/>
<line x1="45" y1="243.2" x2="61.9" y2="243.2" stroke-width="1"/>
<path d="M52,243.2L53,241.5L54.5,243.8L55.5,243.2" stroke-width="0.8" fill="none"/>
<line x1="25.5" y1="268.4" x2="47.4" y2="268.4" stroke-width="1"/>
<line x1="59.5" y1="268.4" x2="80.7" y2="268.4" stroke-width="1"/>
<rect x="24.8" y="273.3" width="22.60" height="5.50" fill="#000" stroke="none"/>
<rect x="59.5" y="273.3" width="21.20" height="5.50" fill="#000" stroke="none"/>
<line x1="25.2" y1="268.4" x2="25.2" y2="273.3" stroke-width="1"/>
<line x1="80.5" y1="268.4" x2="80.5" y2="273.3" stroke-width="1"/>
<rect x="28.3" y="270" width="5.60" height="3.30" fill="#000" stroke="none"/>
<rect x="27.6" y="274.1" width="0.70" height="0.70" fill="#fff" stroke="none"/>
<rect x="71.0" y="274.1" width="0.70" height="0.70" fill="#fff" stroke="none"/>
<rect x="29.0" y="274.1" width="0.70" height="0.70" fill="#fff" stroke="none"/>
<rect x="72.4" y="274.1" width="0.70" height="0.70" fill="#fff" stroke="none"/>
<rect x="30.400000000000002" y="274.1" width="0.70" height="0.70" fill="#fff" stroke="none"/>
<rect x="73.8" y="274.1" width="0.70" height="0.70" fill="#fff" stroke="none"/>
<rect x="31.8" y="274.1" width="0.70" height="0.70" fill="#fff" stroke="none"/>
<rect x="75.2" y="274.1" width="0.70" height="0.70" fill="#fff" stroke="none"/>
<path d="M87.5,264.2L95,268.6M95,264.2L87.5,268.6M91.2,262.8V269.8M87,266.4H95.5" stroke-width="1.6" fill="none"/>
<path d="M83.4,273.3L87.8,273.3L86.4,268.8Z" stroke-width="1" fill="#000"/>
<rect x="74.4" y="251.2" width="19.60" height="3.90" fill="#000" stroke="none"/>
<path d="M74.4,252.3H71Q69,253 68.6,258L67.9,267.7" stroke-width="1" fill="none"/>
<rect x="73.9" y="285.4" width="17.80" height="2.80" fill="#000" stroke="none"/>
<rect x="73.9" y="288.2" width="8.90" height="4.30" fill="#000" stroke="none"/>
<path d="M73.9,286.9H66.2L54.8,301" stroke-width="1" fill="none"/>
<rect x="71.3" y="303.5" width="26.30" height="3.50" fill="#000" stroke="none"/>
<line x1="71.3" y1="305.2" x2="53.5" y2="334.6" stroke-width="1"/>
<rect x="25.4" y="319.4" width="56.60" height="21.00" fill="none" stroke-width="1"/>
<rect x="25" y="337.8" width="57.40" height="3.00" fill="#000" stroke="none"/>
<path d="M27.3,327V336.3H79.5V327" stroke-width="1" fill="none"/>
<line x1="34.4" y1="327.9" x2="47.1" y2="327.9" stroke-width="1"/>
<line x1="34.4" y1="324.4" x2="34.4" y2="331.1" stroke-width="1"/>
<line x1="47.1" y1="324.4" x2="47.1" y2="331.1" stroke-width="1"/>
<rect x="37.75" y="326" width="6.00" height="4.00" fill="#000" stroke="none"/>
<line x1="59.9" y1="327.9" x2="72.6" y2="327.9" stroke-width="1"/>
<line x1="59.9" y1="324.4" x2="59.9" y2="331.1" stroke-width="1"/>
<line x1="72.6" y1="324.4" x2="72.6" y2="331.1" stroke-width="1"/>
<rect x="63.25" y="326" width="6.00" height="4.00" fill="#000" stroke="none"/>
<line x1="19.1" y1="328.2" x2="19.1" y2="337" stroke-width="1"/>
<line x1="15.3" y1="328.2" x2="23" y2="328.2" stroke-width="1"/>
<line x1="15.3" y1="337" x2="23" y2="337" stroke-width="1"/>
<rect x="15.3" y="331.5" width="3.80" height="5.10" fill="#000" stroke="none"/>
<line x1="24.7" y1="349" x2="82" y2="349" stroke-width="1"/>
<line x1="24.7" y1="344.7" x2="24.7" y2="352.4" stroke-width="1"/>
<line x1="82" y1="344.7" x2="82" y2="352.4" stroke-width="1"/>
<rect x="44.6" y="347.5" width="17.40" height="3.10" fill="#000" stroke="none"/>
<line x1="104.7" y1="273.3" x2="104.7" y2="341" stroke-width="1"/>
<line x1="99" y1="273.3" x2="108" y2="273.3" stroke-width="1"/>
<line x1="97.3" y1="319.4" x2="108.2" y2="319.4" stroke-width="1"/>
<circle cx="52.8" cy="335.3" r="1.8" fill="#fff" stroke-width="1"/>
<rect x="101.5" y="295" width="6.30" height="3.40" fill="#000" stroke="none"/>
<rect x="101.5" y="327.8" width="6.30" height="4.20" fill="#000" stroke="none"/>
<rect x="83.8" y="335" width="21.00" height="2.80" fill="#000" stroke="none"/>
<line x1="83.8" y1="338.8" x2="105.7" y2="338.8" stroke-width="0.8"/>
<rect x="104.8" y="338.2" width="21.80" height="3.00" fill="#000" stroke="none"/>
<text x="53.5" y="360" font-size="5.6" text-anchor="middle" font-weight="bold" font-family="Liberation Serif" stroke="#000" stroke-width="0.55" fill="#000">DETALLE</text>
<rect x="40.8" y="360.6" width="26.70" height="0.80" fill="#000" stroke="none"/>
<text x="53.5" y="367.8" font-size="5.6" text-anchor="middle" font-weight="bold" font-family="Liberation Serif" stroke="#000" stroke-width="0.55" fill="#000">ZAPATA TIPICA</text>
<rect x="31" y="368.2" width="45.00" height="0.80" fill="#000" stroke="none"/>
<rect x="49.7" y="371" width="8.30" height="2.60" fill="#000" stroke="none"/>
<rect x="284.0" y="259.3" width="6.20" height="2.00" fill="#000" stroke="none"/>
<line x1="291.6" y1="259.3" x2="291.6" y2="316.2" stroke-width="1"/>
<line x1="284.5" y1="259.3" x2="284.5" y2="316.2" stroke-width="1"/>
<line x1="281.9" y1="266.4" x2="294.0" y2="266.4" stroke-width="1"/>
<line x1="284.0" y1="269" x2="292.1" y2="269" stroke-width="2"/>
<line x1="284.0" y1="274" x2="292.1" y2="274" stroke-width="2"/>
<line x1="284.0" y1="278.8" x2="292.1" y2="278.8" stroke-width="2"/>
<line x1="284.0" y1="283.4" x2="292.1" y2="283.4" stroke-width="1.2"/>
<path d="M286,285.5h1M285,288.5h1M285,288.0l-2,-2M285,285.5h1M288,285.5h2M288,291.5h1M287,291.0l2,-2M287,288.5h1" stroke-width="1" stroke="#000" fill="none"/>
<rect x="284.0" y="293" width="8.10" height="23.20" fill="#000" stroke="none"/>
<rect x="286.2" y="294" width="3.80" height="20.30" fill="#fff" stroke="none"/>
<path d="M287,300.5h2M287,296.0l2,1M286,296.5h1M287,297.5h1M287,296.5h1M288,296.5h1M287,301.5h1M287,302.5h2M287,300.5h2" stroke-width="1" stroke="#000" fill="none"/>
<line x1="262.8" y1="293.6" x2="284.0" y2="293.6" stroke-width="1"/>
<rect x="264.1" y="289.2" width="8.70" height="4.10" fill="#000" stroke="none"/>
<line x1="271.1" y1="311.4" x2="284.0" y2="311.4" stroke-width="1"/>
<line x1="292.1" y1="307.3" x2="316.3" y2="307.3" stroke-width="1"/>
<line x1="292.1" y1="311.4" x2="316.3" y2="311.4" stroke-width="1"/>
<line x1="292.1" y1="316.2" x2="320.3" y2="316.2" stroke-width="1.3"/>
<rect x="297.40000000000003" y="303.2" width="12.80" height="4.10" fill="#000" stroke="none"/>
<line x1="319.5" y1="283.4" x2="319.5" y2="358.2" stroke-width="1"/>
<line x1="316.3" y1="283.4" x2="322.0" y2="283.4" stroke-width="1"/>
<line x1="316.3" y1="293.6" x2="322.0" y2="293.6" stroke-width="1"/>
<line x1="316.6" y1="304.8" x2="316.6" y2="313.7" stroke-width="1"/>
<rect x="320.2" y="287" width="4.80" height="3.80" fill="#000" stroke="none"/>
<rect x="320.2" y="299" width="4.80" height="3.20" fill="#000" stroke="none"/>
<rect x="320.2" y="308" width="4.80" height="3.10" fill="#000" stroke="none"/>
<rect x="320.2" y="313" width="4.80" height="3.20" fill="#000" stroke="none"/>
<rect x="320.2" y="336" width="4.80" height="3.70" fill="#000" stroke="none"/>
<rect x="284.0" y="316.2" width="23.20" height="42.00" fill="none" stroke-width="1.1"/>
<path d="M295,319.5h1M300,339.5h1M291,344.5h1M296,335.5h1M304,335.5h1M286,344.5h1M305,349.5h2M293,343.0l-2,-2M288,322.0l-2,2M300,332.5h1M295,323.5h1M290,322.5h1M296,344.5h1M298,332.5h2M287,323.5h1M285,349.5h2M291,323.5h1M297,329.5h2M302,354.5h1M300,335.5h1M304,343.5h1M293,332.5h1M293,324.5h1M294,321.5h1M287,339.5h1M304,341.0l2,1M292,342.5h1M297,335.5h2M295,355.5h1M291,323.5h1M300,336.5h1M295,325.5h1M292,344.5h1M300,329.5h1M287,350.5h1M303,331.5h2M296,337.5h1M297,348.5h1M289,326.5h1M301,325.5h1M299,355.5h1M294,325.5h1M292,348.5h1M292,355.0l2,2M294,330.5h1M304,341.0l-2,1M287,343.5h1M300,346.5h1M289,348.5h1M301,355.5h1M293,354.5h1M288,322.5h2M303,348.5h2M301,355.5h1M292,338.5h2M285,355.5h1M295,353.5h1M302,349.5h2M290,328.5h2M297,327.5h1M288,352.5h1M294,340.5h1M293,353.5h1M295,337.0l-2,2M297,347.5h2M288,341.5h2M286,344.5h1M295,347.5h1M286,324.0l2,1M294,318.5h1M286,330.5h1M297,325.5h2M295,348.5h1M290,337.5h1M303,353.5h1M289,334.5h1M293,329.5h1M293,325.5h1M287,347.5h1M298,331.5h2M288,335.5h1M287,351.5h2M298,326.5h1M305,333.5h1M292,321.5h1M292,335.5h1M293,337.5h2M304,321.5h1M290,351.0l-2,2M303,324.5h1M301,350.5h1M304,333.5h1M295,336.5h1M290,348.5h2M303,327.0l2,-2M287,350.0l2,-2M285,356.5h1M303,341.0l2,2M304,327.5h2M303,341.5h1M289,334.5h1M290,348.5h1M286,318.5h1M304,337.5h2M294,343.5h1M298,338.5h1M304,329.5h2" stroke-width="1" stroke="#000" fill="none"/>
<line x1="284.0" y1="358.2" x2="322.0" y2="358.2" stroke-width="1"/>
<line x1="284.0" y1="364.6" x2="307.2" y2="364.6" stroke-width="1"/>
<line x1="284.0" y1="358.2" x2="284.0" y2="366.5" stroke-width="1"/>
<line x1="307.2" y1="358.2" x2="307.2" y2="366.5" stroke-width="1"/>
<rect x="293.0" y="364.6" width="4.00" height="3.20" fill="#000" stroke="none"/>
<line x1="298.3" y1="356.3" x2="281.8" y2="372" stroke-width="1"/>
<rect x="248.0" y="362.3" width="32.50" height="11.20" fill="#000" stroke="none"/>
<rect x="276.0" y="365.8" width="4.50" height="4.50" fill="#fff" stroke="none"/>
<rect x="356.9" y="259.3" width="6.20" height="2.00" fill="#000" stroke="none"/>
<line x1="364.5" y1="259.3" x2="364.5" y2="316.2" stroke-width="1"/>
<line x1="357.4" y1="259.3" x2="357.4" y2="316.2" stroke-width="1"/>
<line x1="354.79999999999995" y1="266.4" x2="366.9" y2="266.4" stroke-width="1"/>
<line x1="356.9" y1="269" x2="365.0" y2="269" stroke-width="2"/>
<line x1="356.9" y1="274" x2="365.0" y2="274" stroke-width="2"/>
<line x1="356.9" y1="278.8" x2="365.0" y2="278.8" stroke-width="2"/>
<line x1="356.9" y1="283.4" x2="365.0" y2="283.4" stroke-width="1.2"/>
<path d="M359,286.5h1M361,285.5h1M362,290.0l-2,-2M359,285.5h1M361,289.5h2M359,286.5h1M359,287.5h2M362,291.5h1" stroke-width="1" stroke="#000" fill="none"/>
<rect x="356.9" y="293" width="8.10" height="23.20" fill="#000" stroke="none"/>
<rect x="358.9" y="296.5" width="2.90" height="17.80" fill="#fff" stroke="none"/>
<rect x="362.5" y="294.5" width="0.80" height="21.50" fill="#fff" stroke="none"/>
<line x1="333.9" y1="293.6" x2="356.9" y2="293.6" stroke-width="1"/>
<rect x="335.2" y="289.2" width="8.70" height="4.10" fill="#000" stroke="none"/>
<line x1="342.2" y1="311.4" x2="356.9" y2="311.4" stroke-width="1"/>
<line x1="365.0" y1="307.3" x2="388.00000000000006" y2="307.3" stroke-width="1"/>
<line x1="365.0" y1="311.4" x2="388.00000000000006" y2="311.4" stroke-width="1"/>
<line x1="365.0" y1="316.2" x2="392.00000000000006" y2="316.2" stroke-width="1.3"/>
<rect x="370.3" y="303.2" width="12.80" height="4.10" fill="#000" stroke="none"/>
<line x1="391.2" y1="283.4" x2="391.2" y2="358.2" stroke-width="1"/>
<line x1="388.0" y1="283.4" x2="393.7" y2="283.4" stroke-width="1"/>
<line x1="388.0" y1="293.6" x2="393.7" y2="293.6" stroke-width="1"/>
<line x1="388.3" y1="304.8" x2="388.3" y2="313.7" stroke-width="1"/>
<rect x="391.9" y="287" width="4.80" height="3.80" fill="#000" stroke="none"/>
<rect x="391.9" y="299" width="4.80" height="3.20" fill="#000" stroke="none"/>
<rect x="391.9" y="308" width="4.80" height="3.10" fill="#000" stroke="none"/>
<rect x="391.9" y="313" width="4.80" height="3.20" fill="#000" stroke="none"/>
<rect x="391.9" y="336" width="4.80" height="3.70" fill="#000" stroke="none"/>
<rect x="356.9" y="316.2" width="24.60" height="42.00" fill="none" stroke-width="1.1"/>
<path d="M363,355.5h1M365,317.5h1M368,337.5h2M369,317.5h2M360,333.0l2,-2M364,326.5h1M369,346.5h1M373,351.5h1M365,355.5h2M373,342.0l-2,1M373,337.5h1M374,339.5h1M358,344.5h1M373,354.5h1M360,319.5h1M378,332.5h1M359,318.5h1M363,327.5h1M359,353.5h1M360,337.5h1M368,348.5h1M363,346.5h2M372,335.5h1M360,352.5h2M359,342.5h2M371,330.5h1M373,341.5h2M368,336.5h1M360,325.5h1M373,328.5h1M374,356.5h1M364,320.5h1M364,320.5h1M379,356.5h1M377,353.0l2,2M374,327.5h1M371,342.5h2M360,331.5h1M376,332.5h2M378,344.5h1M373,333.5h1M360,330.5h1M365,332.5h1M362,317.5h1M363,320.5h1M376,320.5h1M374,350.5h2M359,343.5h1M361,355.5h1M365,347.5h1M367,318.5h1M366,351.5h1M362,320.5h1M367,341.5h2M376,336.5h1M370,324.5h1M364,327.5h1M372,333.5h2M368,343.5h2M371,320.5h1M375,338.5h1M365,347.5h1M369,326.5h2M370,329.5h1M375,325.0l-2,-2M367,337.5h1M365,319.5h2M378,322.5h1M371,351.5h2M364,327.5h1M367,354.5h1M376,318.0l-2,1M368,320.5h1M377,338.5h1M367,347.5h2M361,355.5h2M375,344.5h1M377,320.5h1M358,322.5h1M359,345.5h1M371,338.5h1M374,321.5h1M378,324.5h2M375,317.5h1M379,328.5h1M376,326.5h1M369,318.5h1M372,319.5h2M377,342.0l2,1M367,331.5h1M373,345.5h1M366,317.5h2M376,320.5h1M362,347.5h2M368,327.5h1M360,341.5h1M377,336.5h1M359,340.5h1M359,318.5h1M367,345.5h2M367,345.5h1M360,320.5h2M362,342.5h1M368,329.5h1M376,355.5h1M360,320.0l-2,2M370,347.5h1M374,329.5h1M360,344.5h2M369,334.5h1M373,335.5h1M363,341.5h1M366,335.5h1M359,325.0l-2,-2" stroke-width="1" stroke="#000" fill="none"/>
<line x1="356.9" y1="358.2" x2="393.7" y2="358.2" stroke-width="1"/>
<line x1="356.9" y1="364.6" x2="381.5" y2="364.6" stroke-width="1"/>
<line x1="356.9" y1="358.2" x2="356.9" y2="366.5" stroke-width="1"/>
<line x1="381.5" y1="358.2" x2="381.5" y2="366.5" stroke-width="1"/>
<rect x="365.9" y="364.6" width="4.00" height="3.20" fill="#000" stroke="none"/>
<line x1="371.2" y1="356.3" x2="354.7" y2="372" stroke-width="1"/>
<rect x="320.9" y="362.3" width="32.50" height="11.20" fill="#000" stroke="none"/>
<rect x="348.9" y="365.8" width="4.50" height="4.50" fill="#fff" stroke="none"/>
<text x="301" y="377.2" font-size="5.2" text-anchor="middle" font-weight="bold" font-family="Liberation Sans" stroke="#000" stroke-width="0.25" fill="#000">CC-1</text>
<rect x="296" y="378.3" width="17.80" height="3.50" fill="#000" stroke="none"/>
<text x="374" y="377.2" font-size="5.2" text-anchor="middle" font-weight="bold" font-family="Liberation Sans" stroke="#000" stroke-width="0.25" fill="#000">CC-2</text>
<rect x="369" y="378.3" width="17.80" height="3.50" fill="#000" stroke="none"/>
<text x="294.2" y="397" font-size="7.6" text-anchor="start" font-weight="bold" font-family="Liberation Serif" textLength="66" lengthAdjust="spacingAndGlyphs" stroke="#000" stroke-width="0.4" fill="#000">SECCIONES DE CIMENTACION</text>
<rect x="294" y="397.3" width="66.00" height="0.80" fill="#000" stroke="none"/>
<rect x="360" y="398" width="18.80" height="2.80" fill="#000" stroke="none"/>
<rect x="438.2" y="267.7" width="6.30" height="3.90" fill="#000" stroke="none"/>
<line x1="445.2" y1="267.7" x2="445.2" y2="293.2" stroke-width="1.3"/>
<line x1="438.8" y1="267.7" x2="438.8" y2="316.2" stroke-width="1.3"/>
<line x1="445.3" y1="293.2" x2="445.3" y2="316.2" stroke-width="1"/>
<line x1="436" y1="275.4" x2="447.9" y2="275.4" stroke-width="1"/>
<line x1="438.2" y1="278" x2="445.8" y2="278" stroke-width="1.3"/>
<line x1="438.2" y1="283" x2="445.8" y2="283" stroke-width="1.3"/>
<line x1="438.2" y1="288.1" x2="445.8" y2="288.1" stroke-width="1.3"/>
<line x1="438.2" y1="292.6" x2="445.8" y2="292.6" stroke-width="1.3"/>
<path d="M440,314.5h1M440,308.5h1M440,293.5h1M443,307.5h1M439,298.5h1M443,314.5h1M440,302.5h1M443,297.5h1M442,311.5h1M442,300.5h1M441,310.0l2,-2M442,298.0l2,-2M441,300.5h1M443,314.5h2M440,295.5h1M442,303.5h2M441,306.5h1M442,311.5h1M440,311.5h2M442,301.5h1M440,298.5h2M440,312.5h1" stroke-width="1" stroke="#000" fill="none"/>
<line x1="445.8" y1="302.4" x2="462.8" y2="302.4" stroke-width="1"/>
<line x1="445.8" y1="307.2" x2="462.8" y2="307.2" stroke-width="1"/>
<rect x="446.8" y="298" width="13.00" height="4.10" fill="#000" stroke="none"/>
<line x1="430.3" y1="316.4" x2="468" y2="316.4" stroke-width="1.2"/>
<line x1="465.6" y1="293.2" x2="465.6" y2="358.5" stroke-width="1"/>
<line x1="462" y1="293.2" x2="468" y2="293.2" stroke-width="1"/>
<line x1="462.8" y1="300.2" x2="462.8" y2="308.5" stroke-width="1"/>
<line x1="462" y1="358.5" x2="468.5" y2="358.5" stroke-width="1"/>
<rect x="466.2" y="295.8" width="4.00" height="4.00" fill="#000" stroke="none"/>
<rect x="466.2" y="302.8" width="4.00" height="4.40" fill="#000" stroke="none"/>
<rect x="466.2" y="310" width="4.00" height="3.90" fill="#000" stroke="none"/>
<rect x="466.2" y="335.5" width="4.00" height="3.50" fill="#000" stroke="none"/>
<rect x="430.3" y="316.4" width="23.20" height="42.10" fill="none" stroke-width="1.1"/>
<path d="M438,333.5h1M441,326.5h1M444,356.5h2M441,349.5h1M449,319.5h2M434,325.5h1M443,353.5h1M448,335.5h2M447,354.5h2M443,341.5h2M439,323.5h2M436,341.5h1M435,318.5h1M445,324.5h1M435,348.5h1M433,321.5h1M442,342.0l2,-2M445,333.5h2M437,354.5h1M442,331.5h1M448,356.5h1M435,346.5h2M431,352.5h1M447,333.5h1M440,324.0l2,1M447,333.5h1M450,346.5h2M438,324.5h2M433,332.5h1M447,349.5h1M448,319.5h1M437,341.5h1M433,345.5h1M449,342.5h1M444,341.5h2M441,339.0l2,-2M438,323.5h1M447,325.5h1M448,343.5h1M438,332.5h1M448,347.5h1M437,327.5h1M439,337.5h2M431,356.5h1M440,341.5h1M448,349.5h1M433,331.5h1M447,337.5h1M432,322.5h1M437,345.0l-2,1M450,323.5h1M451,346.5h1M435,355.5h1M450,353.5h2M447,353.0l-2,1M446,323.5h1M437,349.5h2M441,353.5h2M436,337.5h1M432,324.5h2M450,344.5h1M435,348.5h2M442,342.5h1M448,339.5h1M449,321.5h1M444,333.5h1M437,356.5h1M438,347.5h1M435,346.0l-2,-2M444,355.5h1M444,329.0l2,2M434,341.5h1M441,352.5h2M436,343.0l2,1M438,321.5h1M436,340.5h1M435,342.5h1M434,354.5h2M434,321.5h1M448,348.5h1M437,318.5h1M442,331.5h1M440,354.5h1M436,352.0l2,-2M435,323.5h1M433,341.5h1M435,333.5h1M444,342.5h1M443,337.0l2,1M447,345.0l-2,1M449,320.5h1M435,356.5h2M444,322.5h1M450,354.5h2M432,342.5h1M445,353.5h1M437,353.5h1M433,337.5h2M449,350.5h2M434,353.5h2M439,341.5h1M448,353.5h1M448,338.5h1M442,318.0l2,1M449,348.5h1M443,339.5h2M432,322.5h1" stroke-width="1" stroke="#000" fill="none"/>
<rect x="430.3" y="316.4" width="2.50" height="3.60" fill="#000" stroke="none"/>
<rect x="451.3" y="316.4" width="2.20" height="4.60" fill="#000" stroke="none"/>
<line x1="430.3" y1="363.8" x2="453.5" y2="363.8" stroke-width="1"/>
<line x1="430.3" y1="358.5" x2="430.3" y2="365.7" stroke-width="1"/>
<line x1="453.5" y1="358.5" x2="453.5" y2="365.7" stroke-width="1"/>
<rect x="439.6" y="363.8" width="4.00" height="3.20" fill="#000" stroke="none"/>
<line x1="443.6" y1="355.9" x2="428" y2="371.2" stroke-width="1"/>
<rect x="393" y="362.4" width="33.00" height="10.30" fill="#000" stroke="none"/>
<rect x="421.5" y="365.8" width="4.50" height="4.20" fill="#fff" stroke="none"/>
<text x="447" y="377" font-size="5.2" text-anchor="middle" font-weight="bold" font-family="Liberation Sans" stroke="#000" stroke-width="0.25" fill="#000">CC-4</text>
<rect x="442" y="377.6" width="18.00" height="3.20" fill="#000" stroke="none"/>
<line x1="504.4" y1="334.1" x2="504.4" y2="359.6" stroke-width="1"/>
<line x1="504.4" y1="334.1" x2="510.7" y2="334.1" stroke-width="1"/>
<path d="M506,351.5h1M505,337.5h1M505,335.0l-2,2M511,348.5h1M505,349.5h1M512,336.5h2M506,335.5h1M511,345.5h1M510,339.0l2,1M506,340.5h1M505,339.5h2M510,341.5h1M512,343.5h1M510,335.5h1M508,348.5h1M510,344.5h2M511,336.5h1M506,334.5h2M511,351.0l-2,2M509,348.5h2M509,340.5h1M507,351.5h2M506,346.5h1M506,345.0l2,1M507,336.5h1" stroke-width="1" stroke="#000" fill="none"/>
<line x1="510.2" y1="344" x2="497.9" y2="375.2" stroke-width="1"/>
<rect x="465" y="373.2" width="32.90" height="2.50" fill="#000" stroke="none"/>
<rect x="465" y="377.2" width="27.90" height="6.30" fill="#000" stroke="none"/>
<rect x="492.9" y="379.7" width="5.00" height="3.80" fill="#000" stroke="none"/>
<line x1="79.3" y1="387.8" x2="79.3" y2="590.6" stroke-width="1.2"/>
<line x1="132.3" y1="387.8" x2="132.3" y2="590.6" stroke-width="1.2"/>
<line x1="103.9" y1="393.4" x2="103.9" y2="550.3" stroke-width="1"/>
<line x1="109" y1="393.4" x2="109" y2="550.3" stroke-width="1"/>
<path d="M79.3,393.40H103.9M82.4,393.40V396.19M94.1,393.40V396.19M79.3,396.19H103.9M88.2,396.19V398.98M100.0,396.19V398.98M79.3,398.98H103.9M82.4,398.98V401.77M94.1,398.98V401.77M79.3,401.77H103.9M88.2,401.77V404.56M100.0,401.77V404.56M79.3,404.56H103.9M82.4,404.56V407.35M94.1,404.56V407.35M79.3,407.35H103.9M88.2,407.35V410.14M100.0,407.35V410.14M79.3,410.14H103.9M82.4,410.14V411.00M94.1,410.14V411.00" stroke-width="1.15" fill="none"/>
<path d="M109,393.40H132.3M111.6,393.40V396.19M123.3,393.40V396.19M109,396.19H132.3M117.5,396.19V398.98M129.2,396.19V398.98M109,398.98H132.3M111.6,398.98V401.77M123.3,398.98V401.77M109,401.77H132.3M117.5,401.77V404.56M129.2,401.77V404.56M109,404.56H132.3M111.6,404.56V407.35M123.3,404.56V407.35M109,407.35H132.3M117.5,407.35V410.14M129.2,407.35V410.14M109,410.14H132.3M111.6,410.14V411.00M123.3,410.14V411.00" stroke-width="1.15" fill="none"/>
<path d="M79.3,418.40H103.9M88.2,418.40V421.19M100.0,418.40V421.19M79.3,421.19H103.9M94.1,421.19V423.98M79.3,423.98H103.9M88.2,423.98V426.77M100.0,423.98V426.77M79.3,426.77H103.9M94.1,426.77V429.56M79.3,429.56H103.9M88.2,429.56V432.35M100.0,429.56V432.35M79.3,432.35H103.9M94.1,432.35V435.14M79.3,435.14H103.9M88.2,435.14V437.93M100.0,435.14V437.93M79.3,437.93H103.9M94.1,437.93V440.72M79.3,440.72H103.9M88.2,440.72V443.51M100.0,440.72V443.51M79.3,443.51H103.9M94.1,443.51V446.30M79.3,446.30H103.9M88.2,446.30V449.09M100.0,446.30V449.09M79.3,449.09H103.9M94.1,449.09V451.88M79.3,451.88H103.9M88.2,451.88V454.67M100.0,451.88V454.67M79.3,454.67H103.9M94.1,454.67V457.46M79.3,457.46H103.9M88.2,457.46V460.25M100.0,457.46V460.25M79.3,460.25H103.9M94.1,460.25V463.04M79.3,463.04H103.9M88.2,463.04V465.83M100.0,463.04V465.83M79.3,465.83H103.9M94.1,465.83V468.62M79.3,468.62H103.9M88.2,468.62V471.41M100.0,468.62V471.41M79.3,471.41H103.9M94.1,471.41V474.20M79.3,474.20H103.9M88.2,474.20V476.99M100.0,474.20V476.99M79.3,476.99H103.9M94.1,476.99V479.78M79.3,479.78H103.9M88.2,479.78V482.57M100.0,479.78V482.57M79.3,482.57H103.9M94.1,482.57V485.36M79.3,485.36H103.9M88.2,485.36V488.15M100.0,485.36V488.15M79.3,488.15H103.9M94.1,488.15V490.94M79.3,490.94H103.9M88.2,490.94V493.73M100.0,490.94V493.73M79.3,493.73H103.9M94.1,493.73V496.52M79.3,496.52H103.9M88.2,496.52V499.31M100.0,496.52V499.31M79.3,499.31H103.9M94.1,499.31V502.10M79.3,502.10H103.9M88.2,502.10V504.89M100.0,502.10V504.89M79.3,504.89H103.9M94.1,504.89V507.68M79.3,507.68H103.9M88.2,507.68V510.47M100.0,507.68V510.47M79.3,510.47H103.9M94.1,510.47V513.26M79.3,513.26H103.9M88.2,513.26V516.05M100.0,513.26V516.05M79.3,516.05H103.9M94.1,516.05V518.84M79.3,518.84H103.9M88.2,518.84V521.63M100.0,518.84V521.63M79.3,521.63H103.9M94.1,521.63V524.42M79.3,524.42H103.9M88.2,524.42V526.90M100.0,524.42V526.90" stroke-width="1.15" fill="none"/>
<path d="M109,418.40H132.3M117.5,418.40V421.19M129.2,418.40V421.19M109,421.19H132.3M123.3,421.19V423.98M109,423.98H132.3M117.5,423.98V426.77M129.2,423.98V426.77M109,426.77H132.3M123.3,426.77V429.56M109,429.56H132.3M117.5,429.56V432.35M129.2,429.56V432.35M109,432.35H132.3M123.3,432.35V435.14M109,435.14H132.3M117.5,435.14V437.93M129.2,435.14V437.93M109,437.93H132.3M123.3,437.93V440.72M109,440.72H132.3M117.5,440.72V443.51M129.2,440.72V443.51M109,443.51H132.3M123.3,443.51V446.30M109,446.30H132.3M117.5,446.30V449.09M129.2,446.30V449.09M109,449.09H132.3M123.3,449.09V451.88M109,451.88H132.3M117.5,451.88V454.67M129.2,451.88V454.67M109,454.67H132.3M123.3,454.67V457.46M109,457.46H132.3M117.5,457.46V460.25M129.2,457.46V460.25M109,460.25H132.3M123.3,460.25V463.04M109,463.04H132.3M117.5,463.04V465.83M129.2,463.04V465.83M109,465.83H132.3M123.3,465.83V468.62M109,468.62H132.3M117.5,468.62V471.41M129.2,468.62V471.41M109,471.41H132.3M123.3,471.41V474.20M109,474.20H132.3M117.5,474.20V476.99M129.2,474.20V476.99M109,476.99H132.3M123.3,476.99V479.78M109,479.78H132.3M117.5,479.78V482.57M129.2,479.78V482.57M109,482.57H132.3M123.3,482.57V485.36M109,485.36H132.3M117.5,485.36V488.15M129.2,485.36V488.15M109,488.15H132.3M123.3,488.15V490.94M109,490.94H132.3M117.5,490.94V493.73M129.2,490.94V493.73M109,493.73H132.3M123.3,493.73V496.52M109,496.52H132.3M117.5,496.52V499.31M129.2,496.52V499.31M109,499.31H132.3M123.3,499.31V502.10M109,502.10H132.3M117.5,502.10V504.89M129.2,502.10V504.89M109,504.89H132.3M123.3,504.89V507.68M109,507.68H132.3M117.5,507.68V510.47M129.2,507.68V510.47M109,510.47H132.3M123.3,510.47V513.26M109,513.26H132.3M117.5,513.26V516.05M129.2,513.26V516.05M109,516.05H132.3M123.3,516.05V518.84M109,518.84H132.3M117.5,518.84V521.63M129.2,518.84V521.63M109,521.63H132.3M123.3,521.63V524.42M109,524.42H132.3M117.5,524.42V526.90M129.2,524.42V526.90" stroke-width="1.15" fill="none"/>
<line x1="79.3" y1="411" x2="103.9" y2="411" stroke-width="1"/>
<line x1="109" y1="411" x2="132.3" y2="411" stroke-width="1"/>
<line x1="75.5" y1="393.4" x2="153" y2="393.4" stroke-width="1"/>
<line x1="104.7" y1="396" x2="104.7" y2="585" stroke-width="0.8"/>
<line x1="108.3" y1="396" x2="108.3" y2="585" stroke-width="0.8"/>
<line x1="104.7" y1="398.0" x2="108.3" y2="398.0" stroke-width="0.8"/>
<line x1="104.7" y1="403.6" x2="108.3" y2="403.6" stroke-width="0.8"/>
<line x1="104.7" y1="409.20000000000005" x2="108.3" y2="409.20000000000005" stroke-width="0.8"/>
<line x1="104.7" y1="414.80000000000007" x2="108.3" y2="414.80000000000007" stroke-width="0.8"/>
<line x1="104.7" y1="420.4000000000001" x2="108.3" y2="420.4000000000001" stroke-width="0.8"/>
<line x1="104.7" y1="426.0000000000001" x2="108.3" y2="426.0000000000001" stroke-width="0.8"/>
<line x1="104.7" y1="431.60000000000014" x2="108.3" y2="431.60000000000014" stroke-width="0.8"/>
<line x1="104.7" y1="437.20000000000016" x2="108.3" y2="437.20000000000016" stroke-width="0.8"/>
<line x1="104.7" y1="442.8000000000002" x2="108.3" y2="442.8000000000002" stroke-width="0.8"/>
<line x1="104.7" y1="448.4000000000002" x2="108.3" y2="448.4000000000002" stroke-width="0.8"/>
<line x1="104.7" y1="454.0000000000002" x2="108.3" y2="454.0000000000002" stroke-width="0.8"/>
<line x1="104.7" y1="459.60000000000025" x2="108.3" y2="459.60000000000025" stroke-width="0.8"/>
<line x1="104.7" y1="465.2000000000003" x2="108.3" y2="465.2000000000003" stroke-width="0.8"/>
<line x1="104.7" y1="470.8000000000003" x2="108.3" y2="470.8000000000003" stroke-width="0.8"/>
<line x1="104.7" y1="476.4000000000003" x2="108.3" y2="476.4000000000003" stroke-width="0.8"/>
<line x1="104.7" y1="482.00000000000034" x2="108.3" y2="482.00000000000034" stroke-width="0.8"/>
<line x1="104.7" y1="487.60000000000036" x2="108.3" y2="487.60000000000036" stroke-width="0.8"/>
<line x1="104.7" y1="493.2000000000004" x2="108.3" y2="493.2000000000004" stroke-width="0.8"/>
<line x1="104.7" y1="498.8000000000004" x2="108.3" y2="498.8000000000004" stroke-width="0.8"/>
<line x1="104.7" y1="504.40000000000043" x2="108.3" y2="504.40000000000043" stroke-width="0.8"/>
<line x1="104.7" y1="510.00000000000045" x2="108.3" y2="510.00000000000045" stroke-width="0.8"/>
<line x1="104.7" y1="515.6000000000005" x2="108.3" y2="515.6000000000005" stroke-width="0.8"/>
<line x1="104.7" y1="521.2000000000005" x2="108.3" y2="521.2000000000005" stroke-width="0.8"/>
<line x1="104.7" y1="526.8000000000005" x2="108.3" y2="526.8000000000005" stroke-width="0.8"/>
<line x1="104.7" y1="532.4000000000005" x2="108.3" y2="532.4000000000005" stroke-width="0.8"/>
<line x1="104.7" y1="538.0000000000006" x2="108.3" y2="538.0000000000006" stroke-width="0.8"/>
<line x1="104.7" y1="543.6000000000006" x2="108.3" y2="543.6000000000006" stroke-width="0.8"/>
<line x1="104.7" y1="549.2000000000006" x2="108.3" y2="549.2000000000006" stroke-width="0.8"/>
<path d="M103.9,393.4L105.3,397L105.8,388.6L107.6,393.6L109,393.4" stroke-width="1" fill="none"/>
<line x1="109.7" y1="383.5" x2="109.7" y2="389.5" stroke-width="0.8"/>
<line x1="111.2" y1="383.5" x2="111.2" y2="389.5" stroke-width="0.8"/>
<rect x="114" y="385" width="15.60" height="3.50" fill="#000" stroke="none"/>
<line x1="149.8" y1="393.4" x2="149.8" y2="587.7" stroke-width="1"/>
<line x1="132.3" y1="410.2" x2="153" y2="410.2" stroke-width="1"/>
<line x1="136.4" y1="419.2" x2="158.7" y2="419.2" stroke-width="1"/>
<rect x="139" y="398.3" width="19.70" height="3.40" fill="#000" stroke="none"/>
<rect x="142" y="401.7" width="14.50" height="4.00" fill="#000" stroke="none"/>
<rect x="140.8" y="412" width="17.90" height="7.20" fill="#000" stroke="none"/>
<rect x="139" y="470.2" width="19.70" height="3.30" fill="#000" stroke="none"/>
<rect x="142" y="473.5" width="14.50" height="4.30" fill="#000" stroke="none"/>
<line x1="136.4" y1="527.3" x2="153" y2="527.3" stroke-width="1"/>
<line x1="136.4" y1="550.3" x2="153" y2="550.3" stroke-width="1"/>
<line x1="136.4" y1="587.5" x2="153" y2="587.5" stroke-width="1"/>
<rect x="140.8" y="535.8" width="17.90" height="4.50" fill="#000" stroke="none"/>
<rect x="145.3" y="533" width="9.00" height="11.30" fill="#000" stroke="none"/>
<rect x="140.8" y="565" width="17.60" height="3.20" fill="#000" stroke="none"/>
<rect x="140.8" y="570" width="17.60" height="3.80" fill="#000" stroke="none"/>
<line x1="76" y1="463.2" x2="83.8" y2="463.2" stroke-width="1"/>
<line x1="128.5" y1="463.2" x2="136.4" y2="463.2" stroke-width="1"/>
<path d="M77.3,463.2L82.7,463.2L80,467Z" stroke-width="0.9" fill="none"/>
<path d="M129.3,463.2L134.7,463.2L132,467Z" stroke-width="0.9" fill="none"/>
<line x1="65.9" y1="410.2" x2="65.9" y2="587.7" stroke-width="1"/>
<line x1="62.5" y1="410.2" x2="72.6" y2="410.2" stroke-width="1"/>
<rect x="62.5" y="414" width="6.30" height="3.60" fill="#000" stroke="none"/>
<line x1="62.5" y1="419.8" x2="69.7" y2="419.8" stroke-width="1"/>
<path d="M70.3,425.4H56.5V439.3" stroke-width="1" fill="none"/>
<line x1="70.3" y1="425.4" x2="70.3" y2="439.3" stroke-width="1"/>
<rect x="53.6" y="439.3" width="20.10" height="12.70" fill="none" stroke-width="1.1"/>
<rect x="55.8" y="440.9" width="16.10" height="9.60" fill="none" stroke-width="0.9"/>
<rect x="57" y="445" width="1.00" height="1.20" fill="#000" stroke="none"/>
<rect x="68.6" y="443.6" width="1.00" height="2.40" fill="#000" stroke="none"/>
<line x1="51.3" y1="463.2" x2="74.8" y2="463.2" stroke-width="1"/>
<line x1="53.6" y1="457.2" x2="53.6" y2="466.1" stroke-width="1"/>
<line x1="73.7" y1="457.2" x2="73.7" y2="466.1" stroke-width="1"/>
<rect x="60.3" y="460.1" width="4.50" height="3.10" fill="#000" stroke="none"/>
<rect x="58" y="472.2" width="13.90" height="3.30" fill="#000" stroke="none"/>
<rect x="60.3" y="469.5" width="9.40" height="2.70" fill="#000" stroke="none"/>
<rect x="77" y="515.4" width="4.50" height="4.60" fill="#000" stroke="none"/>
<line x1="79.3" y1="526.9" x2="132.3" y2="526.9" stroke-width="1.2"/>
<line x1="79.3" y1="550.3" x2="132.3" y2="550.3" stroke-width="1.2"/>
<line x1="79.3" y1="590.6" x2="132.3" y2="590.6" stroke-width="1.2"/>
<line x1="79.3" y1="537" x2="132.3" y2="537" stroke-width="0.6"/>
<path d="M100,543.5h1M94,535.5h1M89,539.5h2M102,541.5h1M82,540.5h1M93,528.5h1M91,546.5h1M92,534.5h1M95,533.5h2M87,541.5h1M91,533.5h1M99,540.5h1M102,543.5h1M88,532.5h1M85,548.5h1M83,541.5h2M83,530.5h1M86,533.5h2M100,533.5h1M90,527.5h1M90,532.5h1M86,527.5h2M96,527.5h2M99,542.5h1M94,545.5h1M95,546.5h1M93,532.5h2M82,536.5h2M96,546.5h2M89,542.5h2M99,537.0l-2,1M95,547.5h2M95,544.5h1M91,548.0l2,2M96,547.5h2M88,545.5h1M84,537.0l-2,1M87,543.5h1M102,531.5h1M101,543.5h1M94,532.5h1M81,529.5h1M94,542.5h1M82,534.5h1M101,548.5h1M102,537.5h2M101,528.5h1M84,541.5h1M98,530.5h1M99,544.5h1M102,543.5h1M97,537.5h1M85,542.5h1M102,542.5h1M98,544.5h1M95,534.5h1M94,529.5h1M83,534.5h1M81,539.5h1M101,538.5h1M93,541.5h2M81,533.5h1M93,545.5h2M90,544.5h2" stroke-width="1" stroke="#000" fill="none"/>
<path d="M118,538.5h1M124,548.0l-2,2M120,532.0l-2,1M128,539.5h2M114,530.5h1M110,537.5h2M120,538.5h1M128,527.5h1M119,539.5h1M127,535.5h1M130,529.5h1M123,528.5h1M124,547.5h1M130,538.5h1M128,528.5h1M122,534.5h1M117,537.5h1M126,532.5h1M118,539.5h1M115,545.5h1M120,533.5h1M130,541.5h1M116,534.5h2M122,541.5h1M110,543.5h1M121,528.5h1M109,531.5h1M122,541.5h1M129,540.5h1M122,542.5h1M124,532.5h1M119,543.5h2M113,528.5h1M129,541.5h1M127,544.5h1M115,533.5h1M116,536.5h1M129,528.5h1M110,530.5h1M121,547.5h1M109,535.5h1M129,548.5h1M118,529.5h1M114,530.0l2,2M124,530.5h1M111,546.5h2M109,542.5h2M125,531.0l2,1M125,533.5h1M120,541.5h1M129,528.0l2,2M128,542.5h1M117,534.5h1M130,545.5h1M116,547.5h1M119,531.5h1M112,548.5h2M126,537.5h1M119,533.5h1M116,533.5h1" stroke-width="1" stroke="#000" fill="none"/>
<path d="M94,581.5h1M99,578.0l2,1M99,573.5h1M85,565.5h1M97,559.5h1M95,563.5h2M83,585.5h1M98,561.5h2M100,588.5h2M102,581.5h1M97,569.5h1M92,569.5h1M98,578.5h1M87,553.5h1M96,586.5h1M80,565.5h1M92,564.0l-2,1M91,560.5h1M87,570.5h2M84,554.5h1M86,572.5h1M97,583.5h2M101,569.5h1M88,568.0l-2,1M80,561.5h1M82,558.5h1M93,573.5h2M101,561.0l-2,1M98,587.5h2M80,558.5h2M81,552.5h1M100,568.5h1M100,553.5h1M89,555.5h1M85,572.5h1M101,576.5h1M90,557.5h1M102,559.0l-2,-2M81,572.0l2,-2M98,577.5h1M102,553.5h2M97,586.5h1M86,573.5h1M82,563.5h2M82,569.5h2M85,556.5h1M80,578.5h2M80,586.5h2M101,583.5h1M83,567.0l-2,2M94,568.5h1M98,569.5h1M83,559.0l-2,1M100,567.5h2M89,560.0l-2,-2M98,560.5h2M90,569.5h2M91,574.5h1M101,572.5h1M82,579.5h1M89,560.5h2M85,565.5h1M83,582.5h1M83,575.5h1M91,570.5h1M98,586.5h2M88,552.5h1M86,557.5h1M91,559.5h2M93,582.5h1M96,579.5h2M83,576.5h1M84,562.0l-2,1M101,570.5h1" stroke-width="1" stroke="#000" fill="none"/>
<path d="M115,575.5h1M111,566.5h1M112,576.5h2M121,588.0l-2,1M122,551.5h1M119,570.5h2M124,582.5h1M116,578.5h1M125,553.5h1M130,569.5h1M120,571.0l2,2M122,557.5h1M121,587.0l2,-2M109,573.5h1M120,577.5h2M128,578.0l2,-2M120,570.5h2M112,566.5h2M122,583.5h2M121,579.5h2M127,586.5h1M118,582.5h1M118,586.5h1M116,560.5h1M118,588.5h1M129,581.5h1M110,570.5h1M129,560.5h1M123,564.5h1M110,567.5h1M109,556.5h1M126,586.5h1M126,584.5h1M110,575.5h2M124,561.5h1M129,574.5h2M120,567.5h1M115,562.5h1M112,573.5h1M120,561.5h1M120,556.5h2M112,562.5h1M115,560.0l-2,-2M122,572.5h1M113,577.5h1M121,574.5h1M116,560.5h2M120,565.5h1M109,564.5h1M114,572.5h1M115,588.5h2M126,557.0l-2,-2M123,570.5h1M117,579.5h1M130,576.5h1M118,576.5h2M113,574.5h2M127,554.5h1M129,588.5h2M123,575.5h1M118,554.5h1M121,555.5h1M130,556.5h1M115,574.5h2M127,577.5h2M117,564.5h1M122,575.0l-2,-2M119,558.5h1M112,572.5h1M111,585.5h1" stroke-width="1" stroke="#000" fill="none"/>
<rect x="77" y="516" width="6.80" height="8.20" fill="#000" stroke="none"/>
<rect x="88.2" y="528.6" width="7.80" height="3.80" fill="#000" stroke="none"/>
<rect x="115" y="521.3" width="6.80" height="3.70" fill="#000" stroke="none"/>
<rect x="95" y="581" width="6.70" height="4.50" fill="#000" stroke="none"/>
<rect x="108.4" y="581" width="6.60" height="4.50" fill="#000" stroke="none"/>
<polygon points="84,555 90,552 94,556 92,561 86,560" fill="#fff" stroke-width="0.9"/>
<polygon points="95,557 101,554 103,560 98,567 94,564" fill="#fff" stroke-width="0.9"/>
<polygon points="85,564 91,562 93,568 88,569" fill="#fff" stroke-width="0.9"/>
<polygon points="86,582 92,575 96,577 98,583 90,585" fill="#fff" stroke-width="0.9"/>
<polygon points="113,556 118,552 124,554 126,560 119,563 114,561" fill="#fff" stroke-width="0.9"/>
<polygon points="113,566 118,563 123,567 121,573 115,572" fill="#fff" stroke-width="0.9"/>
<polygon points="112,582 119,577 125,579 126,584 116,585" fill="#fff" stroke-width="0.9"/>
<polygon points="127,566 129,564 130,568" fill="#fff" stroke-width="0.9"/>
<line x1="72.8" y1="520.3" x2="72.8" y2="574.5" stroke-width="1"/>
<line x1="72.8" y1="520.3" x2="79.3" y2="520.3" stroke-width="1"/>
<line x1="62.4" y1="587.6" x2="72.8" y2="587.6" stroke-width="1"/>
<line x1="57" y1="527.3" x2="79.3" y2="527.3" stroke-width="1"/>
<line x1="60" y1="526.7" x2="60" y2="542" stroke-width="1"/>
<line x1="69.6" y1="531.5" x2="79.3" y2="531.5" stroke-width="1"/>
<line x1="72.8" y1="536.3" x2="79.3" y2="536.3" stroke-width="1"/>
<rect x="29" y="530" width="26.00" height="5.20" fill="#000" stroke="none"/>
<rect x="48" y="537" width="23.20" height="4.00" fill="#000" stroke="none"/>
<path d="M56,567.5h1M52,554.5h1M51,542.5h1M54,570.5h1M54,572.5h1M54,562.5h1M53,559.5h1M57,562.5h1M52,553.5h1M54,559.5h1M57,556.5h1M55,572.5h1M54,566.5h2M53,571.5h1M54,544.5h1M55,566.5h1M56,554.5h2M53,557.5h1M52,547.5h1M55,552.5h1M55,542.5h1M56,551.5h1M51,550.5h1M55,562.5h2M54,558.5h2M55,557.5h1M55,554.5h2M52,565.5h2M52,546.5h1M56,560.5h1M52,541.5h1M53,563.5h1M52,549.0l2,-2M52,560.0l2,-2M55,571.5h1M55,549.0l2,-2M51,568.5h1M54,549.5h1M57,543.5h1M55,559.5h1M54,563.0l2,2M52,552.5h2M57,550.5h1M52,558.5h1M54,543.5h2M56,552.5h2" stroke-width="1" stroke="#000" fill="none"/>
<path d="M46,560.5h2M46,566.5h1M46,567.0l-2,1M49,558.5h1M49,569.5h2M47,567.5h1M50,559.5h1M48,559.5h1M46,567.5h2" stroke-width="1" stroke="#000" fill="none"/>
<path d="M39.3,555.7H51.3V535.2" stroke-width="1" fill="none"/>
<line x1="39.3" y1="574.5" x2="58.4" y2="574.5" stroke-width="1"/>
<line x1="40.1" y1="580" x2="58.4" y2="580" stroke-width="1"/>
<line x1="58.4" y1="574.5" x2="58.4" y2="582.5" stroke-width="1"/>
<rect x="46.2" y="580.9" width="4.30" height="3.60" fill="#000" stroke="none"/>
<line x1="59.2" y1="549" x2="59.2" y2="583.2" stroke-width="1"/>
<line x1="71.2" y1="555.4" x2="71.2" y2="574.5" stroke-width="1"/>
<rect x="60.8" y="542.6" width="13.60" height="6.40" fill="#000" stroke="none"/>
<rect x="57.6" y="550.6" width="16.00" height="4.80" fill="#000" stroke="none"/>
<rect x="61" y="552" width="4.00" height="1.20" fill="#fff" stroke="none"/>
<rect x="67" y="552" width="3.00" height="1.20" fill="#fff" stroke="none"/>
<rect x="58.4" y="567" width="14.40" height="3.80" fill="#000" stroke="none"/>
<rect x="72.8" y="564.1" width="4.00" height="3.50" fill="#000" stroke="none"/>
<text x="50.4" y="599.6" font-size="5.4" text-anchor="middle" font-weight="bold" font-family="Liberation Sans" stroke="#000" stroke-width="0.25" fill="#000">CC-3</text>
<rect x="48" y="600" width="18.70" height="3.60" fill="#000" stroke="none"/>
<text x="112.9" y="604.6" font-size="5.8" text-anchor="middle" font-weight="bold" font-family="Liberation Serif" stroke="#000" stroke-width="0.55" fill="#000">DETALLE</text>
<text x="112.4" y="612.6" font-size="5.8" text-anchor="middle" font-weight="bold" font-family="Liberation Serif" stroke="#000" stroke-width="0.55" fill="#000">MUROS</text>
<rect x="100" y="604.8" width="25.20" height="0.80" fill="#000" stroke="none"/>
<line x1="224.5" y1="422.8" x2="224.5" y2="544.9" stroke-width="1.2"/>
<line x1="236.2" y1="422.8" x2="236.2" y2="544.9" stroke-width="1.2"/>
<line x1="225.9" y1="424" x2="225.9" y2="544" stroke-width="0.8"/>
<line x1="234.4" y1="424" x2="234.4" y2="544" stroke-width="0.8"/>
<line x1="225.9" y1="426.5" x2="234.4" y2="426.5" stroke-width="0.8"/>
<line x1="225.9" y1="431.3" x2="234.4" y2="431.3" stroke-width="0.8"/>
<line x1="225.9" y1="436.1" x2="234.4" y2="436.1" stroke-width="0.8"/>
<line x1="225.9" y1="440.90000000000003" x2="234.4" y2="440.90000000000003" stroke-width="0.8"/>
<line x1="225.9" y1="445.70000000000005" x2="234.4" y2="445.70000000000005" stroke-width="0.8"/>
<line x1="225.9" y1="450.50000000000006" x2="234.4" y2="450.50000000000006" stroke-width="0.8"/>
<line x1="225.9" y1="455.30000000000007" x2="234.4" y2="455.30000000000007" stroke-width="0.8"/>
<line x1="225.9" y1="460.1000000000001" x2="234.4" y2="460.1000000000001" stroke-width="0.8"/>
<line x1="225.9" y1="464.9000000000001" x2="234.4" y2="464.9000000000001" stroke-width="0.8"/>
<line x1="225.9" y1="469.7000000000001" x2="234.4" y2="469.7000000000001" stroke-width="0.8"/>
<line x1="225.9" y1="474.5000000000001" x2="234.4" y2="474.5000000000001" stroke-width="0.8"/>
<line x1="225.9" y1="479.3000000000001" x2="234.4" y2="479.3000000000001" stroke-width="0.8"/>
<line x1="225.9" y1="484.10000000000014" x2="234.4" y2="484.10000000000014" stroke-width="0.8"/>
<line x1="225.9" y1="488.90000000000015" x2="234.4" y2="488.90000000000015" stroke-width="0.8"/>
<line x1="225.9" y1="493.70000000000016" x2="234.4" y2="493.70000000000016" stroke-width="0.8"/>
<line x1="225.9" y1="498.50000000000017" x2="234.4" y2="498.50000000000017" stroke-width="0.8"/>
<line x1="225.9" y1="503.3000000000002" x2="234.4" y2="503.3000000000002" stroke-width="0.8"/>
<line x1="225.9" y1="508.1000000000002" x2="234.4" y2="508.1000000000002" stroke-width="0.8"/>
<line x1="225.9" y1="512.9000000000002" x2="234.4" y2="512.9000000000002" stroke-width="0.8"/>
<line x1="225.9" y1="517.7000000000002" x2="234.4" y2="517.7000000000002" stroke-width="0.8"/>
<line x1="225.9" y1="522.5000000000001" x2="234.4" y2="522.5000000000001" stroke-width="0.8"/>
<line x1="225.9" y1="527.3000000000001" x2="234.4" y2="527.3000000000001" stroke-width="0.8"/>
<line x1="225.9" y1="532.1" x2="234.4" y2="532.1" stroke-width="0.8"/>
<line x1="225.9" y1="536.9" x2="234.4" y2="536.9" stroke-width="0.8"/>
<line x1="225.9" y1="541.6999999999999" x2="234.4" y2="541.6999999999999" stroke-width="0.8"/>
<line x1="221.2" y1="422.8" x2="241.7" y2="422.8" stroke-width="1"/>
<path d="M227,422.8L229,419L230.5,425.5L232,420.5L233,422.8" stroke-width="0.8" fill="none"/>
<line x1="203.3" y1="436.1" x2="224.5" y2="436.1" stroke-width="1"/>
<line x1="236.2" y1="436.1" x2="264.6" y2="436.1" stroke-width="1"/>
<line x1="203.3" y1="452.6" x2="224.5" y2="452.6" stroke-width="1"/>
<line x1="236.2" y1="452.6" x2="264.6" y2="452.6" stroke-width="1"/>
<path d="M203.3,432.1V442.75L201.70000000000002,443.75L205.10000000000002,444.95000000000005L203.3,445.75V457.6" stroke-width="0.9" fill="none"/>
<path d="M264.6,432.1V442.75L263.0,443.75L266.40000000000003,444.95000000000005L264.6,445.75V457.6" stroke-width="0.9" fill="none"/>
<line x1="203.3" y1="515" x2="224.5" y2="515" stroke-width="1"/>
<line x1="236.2" y1="515" x2="264.6" y2="515" stroke-width="1"/>
<line x1="203.3" y1="532.6" x2="224.5" y2="532.6" stroke-width="1"/>
<line x1="236.2" y1="532.6" x2="264.6" y2="532.6" stroke-width="1"/>
<path d="M203.3,511V522.1999999999999L201.70000000000002,523.1999999999999L205.10000000000002,524.4L203.3,525.1999999999999V537.6" stroke-width="0.9" fill="none"/>
<path d="M264.6,511V522.1999999999999L263.0,523.1999999999999L266.40000000000003,524.4L264.6,525.1999999999999V537.6" stroke-width="0.9" fill="none"/>
<rect x="246.9" y="422" width="37.10" height="2.60" fill="#000" stroke="none"/>
<line x1="253.3" y1="424.6" x2="247.8" y2="436.1" stroke-width="1"/>
<line x1="248.2" y1="452.6" x2="248.2" y2="515" stroke-width="1"/>
<line x1="237.7" y1="467.7" x2="251.5" y2="467.7" stroke-width="1"/>
<line x1="237.7" y1="500.3" x2="251.5" y2="500.3" stroke-width="1"/>
<rect x="241" y="459" width="3.10" height="5.00" fill="#000" stroke="none"/>
<rect x="241" y="481" width="3.40" height="6.80" fill="#000" stroke="none"/>
<rect x="241" y="506.7" width="3.40" height="5.50" fill="#000" stroke="none"/>
<line x1="215.2" y1="469.1" x2="215.2" y2="497.5" stroke-width="1"/>
<line x1="211.1" y1="469.1" x2="223" y2="469.1" stroke-width="1"/>
<line x1="211.1" y1="481.6" x2="223" y2="481.6" stroke-width="1"/>
<line x1="211.1" y1="485" x2="223" y2="485" stroke-width="1"/>
<line x1="211.1" y1="497.5" x2="223" y2="497.5" stroke-width="1"/>
<rect x="209" y="473.7" width="4.00" height="2.80" fill="#000" stroke="none"/>
<rect x="209" y="489.6" width="4.00" height="3.00" fill="#000" stroke="none"/>
<rect x="224.5" y="468.2" width="2.30" height="13.80" fill="#000" stroke="none"/>
<rect x="255.1" y="469.3" width="33.90" height="2.30" fill="#000" stroke="none"/>
<rect x="255.1" y="474.3" width="36.40" height="1.60" fill="#000" stroke="none"/>
<rect x="255.1" y="479" width="36.40" height="1.60" fill="#000" stroke="none"/>
<rect x="256" y="483" width="32.00" height="2.40" fill="#000" stroke="none"/>
<rect x="257.9" y="504.3" width="30.20" height="2.90" fill="#000" stroke="none"/>
<line x1="257.9" y1="507.4" x2="290.5" y2="507.4" stroke-width="0.8"/>
<line x1="258.8" y1="507.5" x2="255.5" y2="515" stroke-width="1"/>
<line x1="219.4" y1="544.9" x2="240.5" y2="544.9" stroke-width="1"/>
<path d="M227,544.9L228.5,548.5L230,542.5L231.5,546L233,544.9" stroke-width="0.8" fill="none"/>
<rect x="194.3" y="552.2" width="68.50" height="28.40" fill="none" stroke-width="1.1"/>
<line x1="194.3" y1="559.5" x2="262.8" y2="559.5" stroke-width="1"/>
<line x1="194.3" y1="566.9" x2="262.8" y2="566.9" stroke-width="1"/>
<line x1="194.3" y1="573.7" x2="262.8" y2="573.7" stroke-width="1"/>
<line x1="228.6" y1="559.5" x2="228.6" y2="580.6" stroke-width="1"/>
<rect x="203.8" y="554.2" width="43.10" height="3.50" fill="#000" stroke="none"/>
<rect x="208" y="562" width="6.40" height="2.50" fill="#000" stroke="none"/>
<rect x="239" y="562" width="7.00" height="2.50" fill="#000" stroke="none"/>
<rect x="208" y="568.9" width="6.40" height="2.90" fill="#000" stroke="none"/>
<rect x="239" y="568.9" width="7.00" height="2.90" fill="#000" stroke="none"/>
<rect x="208" y="575.1" width="6.40" height="3.70" fill="#000" stroke="none"/>
<rect x="239" y="575.1" width="7.00" height="3.70" fill="#000" stroke="none"/>
<rect x="195" y="586.1" width="62.90" height="3.70" fill="#000" stroke="none"/>
<rect x="195" y="592.2" width="11.00" height="3.40" fill="#000" stroke="none"/>
<line x1="309" y1="438.9" x2="489.7" y2="438.9" stroke-width="1"/>
<line x1="309" y1="448" x2="321" y2="448" stroke-width="1"/>
<line x1="333.5" y1="448" x2="453.8" y2="448" stroke-width="1"/>
<line x1="466.5" y1="448" x2="489.7" y2="448" stroke-width="1"/>
<path d="M309,436V444.5L306.5,446L311,447L309,448.5V452" stroke-width="0.9" fill="none"/>
<line x1="484.8" y1="444.2" x2="489.7" y2="444.2" stroke-width="1"/>
<line x1="321" y1="448" x2="321" y2="526.8" stroke-width="1"/>
<line x1="333.5" y1="448" x2="333.5" y2="526.8" stroke-width="1.3"/>
<line x1="453.8" y1="448" x2="453.8" y2="526.8" stroke-width="1.3"/>
<line x1="466.5" y1="448" x2="466.5" y2="526.8" stroke-width="1"/>
<rect x="394" y="430.3" width="39.20" height="4.10" fill="#000" stroke="none"/>
<line x1="390.4" y1="434.9" x2="434" y2="434.9" stroke-width="1"/>
<line x1="390.4" y1="434.9" x2="390.4" y2="444.5" stroke-width="1"/>
<text x="303.4" y="465.6" font-size="6" text-anchor="start" font-weight="bold" font-family="Liberation Sans" textLength="45" lengthAdjust="spacingAndGlyphs" stroke="#000" stroke-width="0.25" fill="#000">JUNTA CONSTRUCCION</text>
<text x="303.4" y="471.9" font-size="6" text-anchor="start" font-weight="bold" font-family="Liberation Sans" textLength="35.5" lengthAdjust="spacingAndGlyphs" stroke="#000" stroke-width="0.25" fill="#000">ESPESOR = 1"</text>
<text x="430.9" y="465.6" font-size="6" text-anchor="start" font-weight="bold" font-family="Liberation Sans" textLength="45" lengthAdjust="spacingAndGlyphs" stroke="#000" stroke-width="0.25" fill="#000">JUNTA CONSTRUCCION</text>
<text x="430.9" y="471.9" font-size="6" text-anchor="start" font-weight="bold" font-family="Liberation Sans" textLength="36.5" lengthAdjust="spacingAndGlyphs" stroke="#000" stroke-width="0.25" fill="#000">ESPESOR = 1/2"</text>
<line x1="343.2" y1="476" x2="351" y2="470.8" stroke-width="1"/>
<path d="M351,470.8L348.2,471.2L349.4,473Z" stroke-width="0.6" fill="#000"/>
<line x1="453.3" y1="481" x2="478.7" y2="470.4" stroke-width="1"/>
<line x1="333.5" y1="476.4" x2="451.6" y2="476.4" stroke-width="1"/>
<line x1="333.5" y1="479.2" x2="451.6" y2="479.2" stroke-width="1"/>
<line x1="333.5" y1="481.3" x2="451.6" y2="481.3" stroke-width="1"/>
<line x1="335.6" y1="479.2" x2="335.6" y2="526.8" stroke-width="1"/>
<line x1="342.3" y1="479.2" x2="342.3" y2="526.8" stroke-width="1"/>
<line x1="342.3" y1="507.9" x2="342.3" y2="526.8" stroke-width="1.8"/>
<line x1="335.6" y1="487.8" x2="342.3" y2="487.8" stroke-width="0.9"/>
<line x1="335.6" y1="494.5" x2="342.3" y2="494.5" stroke-width="0.9"/>
<line x1="335.6" y1="501.2" x2="342.3" y2="501.2" stroke-width="0.9"/>
<line x1="335.6" y1="507.9" x2="342.3" y2="507.9" stroke-width="0.9"/>
<line x1="335.6" y1="511.8" x2="342.3" y2="511.8" stroke-width="0.9"/>
<line x1="335.6" y1="515.7" x2="342.3" y2="515.7" stroke-width="0.9"/>
<line x1="335.6" y1="519.6" x2="342.3" y2="519.6" stroke-width="0.9"/>
<line x1="335.6" y1="523.5" x2="342.3" y2="523.5" stroke-width="0.9"/>
<path d="M344.2,481.3V483.4h3.3v3.05h-3.3v3.05h3.3v3.05h-3.3v3.05h3.3v3.05h-3.3v3.05h3.3v3.05h-3.3v3.05h3.3v1.95h-3.3v1.95h3.3v1.95h-3.3v1.95h3.3v1.95h-3.3v1.95h3.3v1.95h-3.3v1.95h3.3v1.95h-3.3v1.95" stroke-width="0.9" fill="none"/>
<line x1="443.7" y1="479.2" x2="443.7" y2="526.8" stroke-width="1"/>
<line x1="451" y1="479.2" x2="451" y2="526.8" stroke-width="1"/>
<line x1="443.7" y1="507.9" x2="443.7" y2="526.8" stroke-width="1.8"/>
<line x1="443.7" y1="487.8" x2="451" y2="487.8" stroke-width="0.9"/>
<line x1="443.7" y1="494.5" x2="451" y2="494.5" stroke-width="0.9"/>
<line x1="443.7" y1="501.2" x2="451" y2="501.2" stroke-width="0.9"/>
<line x1="443.7" y1="507.9" x2="451" y2="507.9" stroke-width="0.9"/>
<line x1="443.7" y1="511.8" x2="451" y2="511.8" stroke-width="0.9"/>
<line x1="443.7" y1="515.7" x2="451" y2="515.7" stroke-width="0.9"/>
<line x1="443.7" y1="519.6" x2="451" y2="519.6" stroke-width="0.9"/>
<line x1="443.7" y1="523.5" x2="451" y2="523.5" stroke-width="0.9"/>
<path d="M442.6,481.3V483.4h-3.3v3.05h3.3v3.05h-3.3v3.05h3.3v3.05h-3.3v3.05h3.3v3.05h-3.3v3.05h3.3v3.05h-3.3v1.95h3.3v1.95h-3.3v1.95h3.3v1.95h-3.3v1.95h3.3v1.95h-3.3v1.95h3.3v1.95h-3.3v1.95h3.3v1.95" stroke-width="0.9" fill="none"/>
<line x1="451.6" y1="476.4" x2="451.6" y2="526.8" stroke-width="1.6"/>
<rect x="325.1" y="484.3" width="4.60" height="4.00" fill="#000" stroke="none"/>
<line x1="329.7" y1="486.3" x2="335.6" y2="486.3" stroke-width="1"/>
<rect x="350.2" y="483.4" width="4.00" height="4.00" fill="#000" stroke="none"/>
<line x1="344" y1="485.4" x2="350.2" y2="485.4" stroke-width="1"/>
<rect x="433.2" y="483.4" width="4.00" height="4.60" fill="#000" stroke="none"/>
<line x1="437.2" y1="485.6" x2="442.6" y2="485.6" stroke-width="1"/>
<rect x="457.7" y="484.3" width="4.00" height="4.00" fill="#000" stroke="none"/>
<line x1="453.8" y1="486.3" x2="457.7" y2="486.3" stroke-width="1"/>
<line x1="380.3" y1="466.4" x2="380.3" y2="496.2" stroke-width="1"/>
<rect x="376.1" y="469" width="4.20" height="4.40" fill="#000" stroke="none"/>
<rect x="375" y="492.2" width="4.00" height="4.50" fill="#000" stroke="none"/>
<clipPath id="blob"><path d="M388.5,503C389,495 398,490.5 410,490L416.5,489.2L421,490.5C421,498 425,504 436.7,509C435,515 424,517.5 412,517C398,516.5 388.5,510 388.5,503Z"/></clipPath>
<path d="M386,489.20H440M386.0,489.20v3.6M392.8,489.20v3.6M399.6,489.20v3.6M406.4,489.20v3.6M413.2,489.20v3.6M420.0,489.20v3.6M426.8,489.20v3.6M433.6,489.20v3.6M386,492.80H440M389.4,492.80v3.6M396.2,492.80v3.6M403.0,492.80v3.6M409.8,492.80v3.6M416.6,492.80v3.6M423.4,492.80v3.6M430.2,492.80v3.6M437.0,492.80v3.6M386,496.40H440M386.0,496.40v3.6M392.8,496.40v3.6M399.6,496.40v3.6M406.4,496.40v3.6M413.2,496.40v3.6M420.0,496.40v3.6M426.8,496.40v3.6M433.6,496.40v3.6M386,500.00H440M389.4,500.00v3.6M396.2,500.00v3.6M403.0,500.00v3.6M409.8,500.00v3.6M416.6,500.00v3.6M423.4,500.00v3.6M430.2,500.00v3.6M437.0,500.00v3.6M386,503.60H440M386.0,503.60v3.6M392.8,503.60v3.6M399.6,503.60v3.6M406.4,503.60v3.6M413.2,503.60v3.6M420.0,503.60v3.6M426.8,503.60v3.6M433.6,503.60v3.6M386,507.20H440M389.4,507.20v3.6M396.2,507.20v3.6M403.0,507.20v3.6M409.8,507.20v3.6M416.6,507.20v3.6M423.4,507.20v3.6M430.2,507.20v3.6M437.0,507.20v3.6M386,510.80H440M386.0,510.80v3.6M392.8,510.80v3.6M399.6,510.80v3.6M406.4,510.80v3.6M413.2,510.80v3.6M420.0,510.80v3.6M426.8,510.80v3.6M433.6,510.80v3.6M386,514.40H440M389.4,514.40v3.6M396.2,514.40v3.6M403.0,514.40v3.6M409.8,514.40v3.6M416.6,514.40v3.6M423.4,514.40v3.6M430.2,514.40v3.6M437.0,514.40v3.6" stroke-width="0.9" fill="none" clip-path="url(#blob)"/>
<path d="M388.5,503C389,495 398,490.5 410,490L416.5,489.2L421,490.5C421,498 425,504 436.7,509C435,515 424,517.5 412,517C398,516.5 388.5,510 388.5,503Z" stroke-width="1.2" fill="none"/>
<line x1="325.7" y1="507.6" x2="325.7" y2="526.8" stroke-width="1"/>
<line x1="322.7" y1="507.6" x2="332.7" y2="507.6" stroke-width="1"/>
<rect x="322.7" y="516" width="4.20" height="3.50" fill="#000" stroke="none"/>
<line x1="462" y1="507.6" x2="462" y2="526.8" stroke-width="1"/>
<line x1="454" y1="507.6" x2="464.7" y2="507.6" stroke-width="1"/>
<rect x="458.2" y="516" width="5.30" height="3.80" fill="#000" stroke="none"/>
<line x1="309.5" y1="526.8" x2="472.6" y2="526.8" stroke-width="1"/>
<line x1="309.5" y1="536.6" x2="472.6" y2="536.6" stroke-width="1"/>
<path d="M309.5,524V530L307.5,531.5L311.5,532.5L309.5,534V540.8" stroke-width="0.9" fill="none"/>
<path d="M472.6,524V530L470.6,531.5L474.6,532.5L472.6,534V540.8" stroke-width="0.9" fill="none"/>
<rect x="326" y="527.3" width="26.9" height="8.6" fill="url(#hx)" stroke="none"/>
<rect x="434.3" y="527.3" width="26" height="8.6" fill="url(#hx)" stroke="none"/>
<line x1="399" y1="526.8" x2="393" y2="543.6" stroke-width="1"/>
<line x1="393" y1="543.6" x2="419.5" y2="543.6" stroke-width="1"/>
<rect x="395.7" y="541.3" width="23.80" height="2.30" fill="#000" stroke="none"/>
<line x1="325.8" y1="540.8" x2="325.8" y2="556.2" stroke-width="1"/>
<line x1="328.6" y1="540.8" x2="328.6" y2="556.2" stroke-width="1"/>
<line x1="335" y1="540.8" x2="335" y2="556.2" stroke-width="1"/>
<line x1="343.1" y1="540.8" x2="343.1" y2="556.2" stroke-width="1"/>
<line x1="350.1" y1="540.8" x2="350.1" y2="556.2" stroke-width="1"/>
<line x1="352.3" y1="540.8" x2="352.3" y2="556.2" stroke-width="1"/>
<line x1="325.2" y1="553.4" x2="353.2" y2="553.4" stroke-width="1"/>
<line x1="311.8" y1="547.8" x2="328.6" y2="547.8" stroke-width="1"/>
<line x1="350.1" y1="547.8" x2="366.3" y2="547.8" stroke-width="1"/>
<rect x="311.2" y="547" width="4.80" height="2.70" fill="#000" stroke="none"/>
<rect x="336.4" y="553.4" width="5.60" height="3.00" fill="#000" stroke="none"/>
<line x1="434.3" y1="540.8" x2="434.3" y2="556.2" stroke-width="1"/>
<line x1="436.8" y1="540.8" x2="436.8" y2="556.2" stroke-width="1"/>
<line x1="441.9" y1="540.8" x2="441.9" y2="556.2" stroke-width="1"/>
<line x1="451.6" y1="540.8" x2="451.6" y2="556.2" stroke-width="1"/>
<line x1="458.6" y1="540.8" x2="458.6" y2="556.2" stroke-width="1"/>
<line x1="460.9" y1="540.8" x2="460.9" y2="556.2" stroke-width="1"/>
<line x1="433.5" y1="553.4" x2="461.5" y2="553.4" stroke-width="1"/>
<line x1="419.5" y1="547.8" x2="436.8" y2="547.8" stroke-width="1"/>
<line x1="458.6" y1="547.8" x2="474" y2="547.8" stroke-width="1"/>
<rect x="469.8" y="547" width="4.80" height="2.70" fill="#000" stroke="none"/>
<rect x="444" y="553.4" width="5.70" height="3.00" fill="#000" stroke="none"/>
<text x="398.6" y="582" font-size="5.6" text-anchor="middle" font-weight="bold" font-family="Liberation Serif" stroke="#000" stroke-width="0.55" fill="#000">DETALLE MURO TABIQUE B</text>
<rect x="361.6" y="582.2" width="74.10" height="0.80" fill="#000" stroke="none"/>
</svg>
</body></html>
